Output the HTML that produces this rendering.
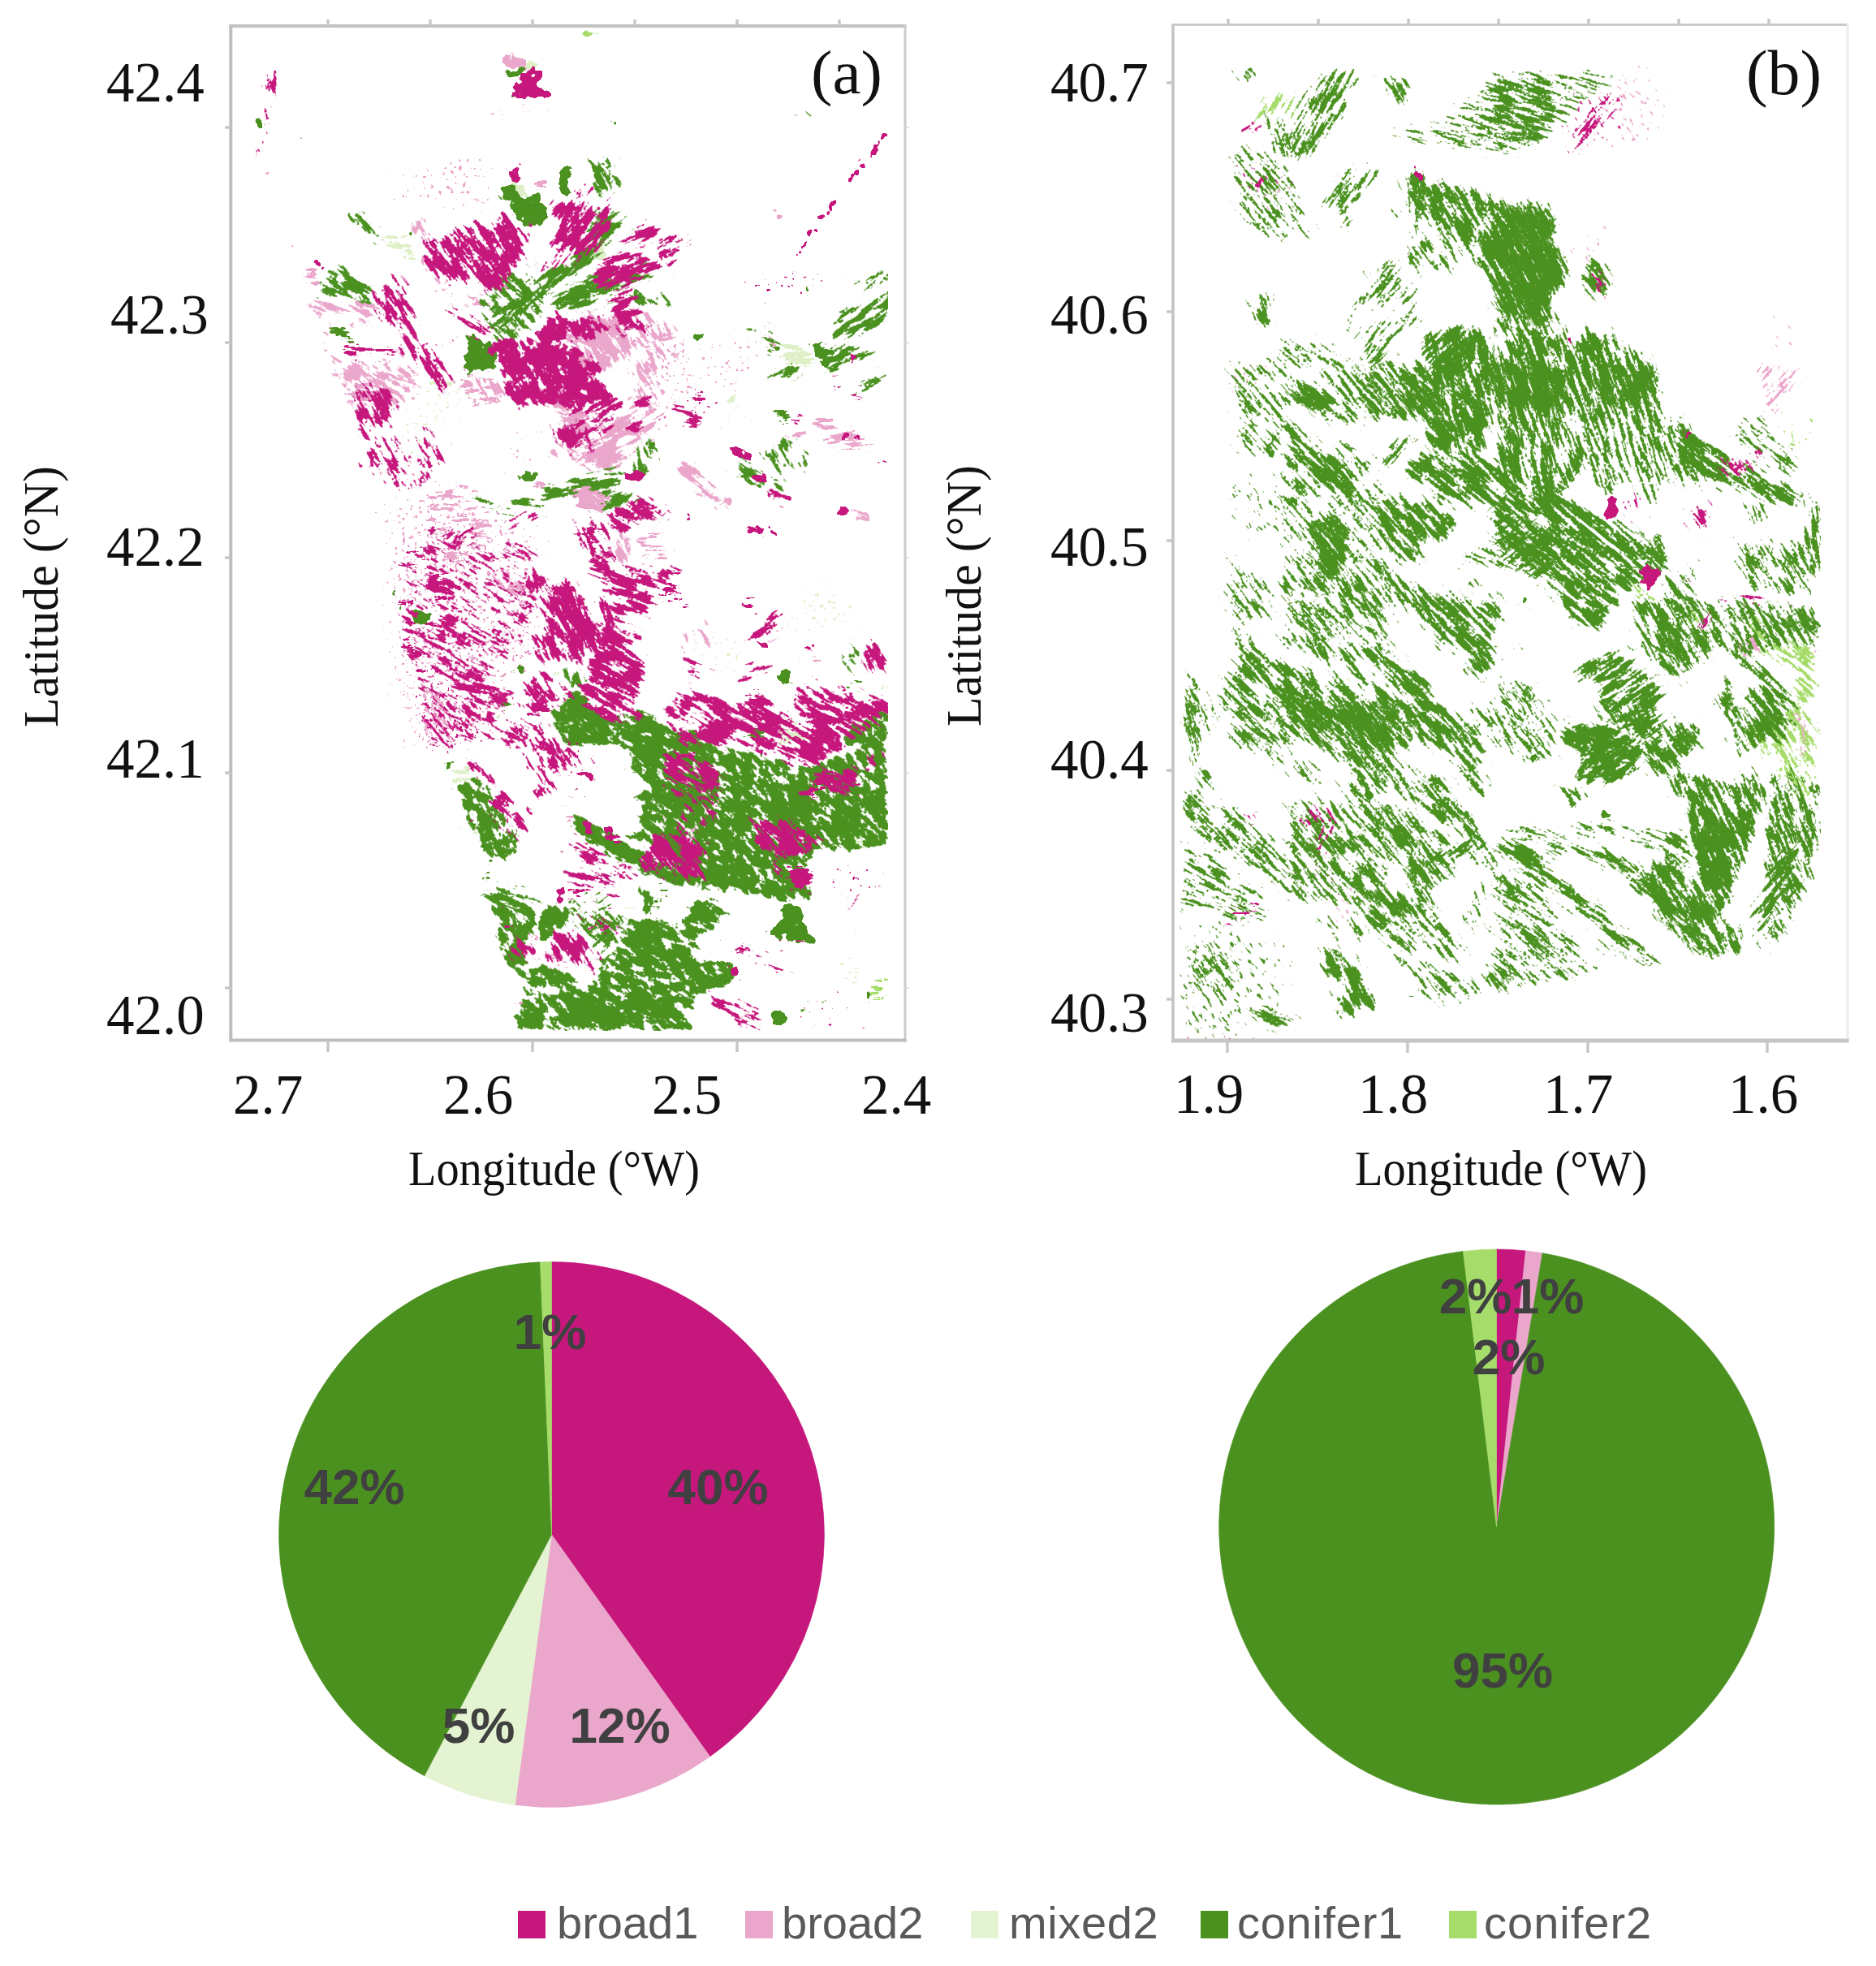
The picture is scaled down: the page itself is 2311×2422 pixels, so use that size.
<!DOCTYPE html>
<html><head><meta charset="utf-8"><title>Figure</title>
<style>html,body{margin:0;padding:0;background:#fff}svg{display:block}</style>
</head><body>
<svg width="2311" height="2422" viewBox="0 0 2311 2422">
<defs>
<clipPath id="clipA"><rect x="287" y="36" width="807" height="1234"/></clipPath>
<clipPath id="clipB"><rect x="1453" y="78" width="790" height="1202"/></clipPath>
<filter id="OAP" x="0" y="0" width="1" height="1" color-interpolation-filters="sRGB"><feTurbulence type="fractalNoise" baseFrequency="0.028" numOctaves="2" seed="41" result="lo"/><feDisplacementMap in="SourceGraphic" in2="lo" scale="5" xChannelSelector="G" yChannelSelector="B" result="d"/><feGaussianBlur in="d" stdDeviation="9" result="b"/><feColorMatrix in="b" type="matrix" values="1 0 0 0 0 0 1 0 0 0 0 0 1 0 0 0 0 0 30 0" result="s"/><feTurbulence type="fractalNoise" baseFrequency="0.2" numOctaves="2" seed="30" result="m0"/><feOffset in="m0" result="m"/><feColorMatrix in="m" type="matrix" values="0 0 0 0 0 0 0 0 0 0 0 0 0 0 0 1 0 0 0 0" result="a"/><feComposite in="a" in2="b" operator="arithmetic" k2="1" k3="0.12" k4="-0.12" result="c"/><feColorMatrix in="c" type="matrix" values="0 0 0 0 0 0 0 0 0 0 0 0 0 0 0 0 0 0 30 -19.65" result="k"/><feComposite in="s" in2="k" operator="in"/></filter>
<filter id="OAL" x="0" y="0" width="1" height="1" color-interpolation-filters="sRGB"><feTurbulence type="fractalNoise" baseFrequency="0.028" numOctaves="2" seed="70" result="lo"/><feDisplacementMap in="SourceGraphic" in2="lo" scale="5" xChannelSelector="G" yChannelSelector="B" result="d"/><feGaussianBlur in="d" stdDeviation="9" result="b"/><feColorMatrix in="b" type="matrix" values="1 0 0 0 0 0 1 0 0 0 0 0 1 0 0 0 0 0 30 0" result="s"/><feTurbulence type="fractalNoise" baseFrequency="0.2" numOctaves="2" seed="59" result="m0"/><feOffset in="m0" result="m"/><feColorMatrix in="m" type="matrix" values="0 0 0 0 0 0 0 0 0 0 0 0 0 0 0 1 0 0 0 0" result="a"/><feComposite in="a" in2="b" operator="arithmetic" k2="1" k3="0.12" k4="-0.12" result="c"/><feColorMatrix in="c" type="matrix" values="0 0 0 0 0 0 0 0 0 0 0 0 0 0 0 0 0 0 30 -19.65" result="k"/><feComposite in="s" in2="k" operator="in"/></filter>
<filter id="OBP" x="0" y="0" width="1" height="1" color-interpolation-filters="sRGB"><feTurbulence type="fractalNoise" baseFrequency="0.028" numOctaves="2" seed="48" result="lo"/><feDisplacementMap in="SourceGraphic" in2="lo" scale="5" xChannelSelector="G" yChannelSelector="B" result="d"/><feGaussianBlur in="d" stdDeviation="9" result="b"/><feColorMatrix in="b" type="matrix" values="1 0 0 0 0 0 1 0 0 0 0 0 1 0 0 0 0 0 30 0" result="s"/><feTurbulence type="fractalNoise" baseFrequency="0.1 0.25" numOctaves="2" seed="37" result="m0"/><feOffset in="m0" result="m"/><feColorMatrix in="m" type="matrix" values="0 0 0 0 0 0 0 0 0 0 0 0 0 0 0 1 0 0 0 0" result="a"/><feComposite in="a" in2="b" operator="arithmetic" k2="1" k3="0.12" k4="-0.12" result="c"/><feColorMatrix in="c" type="matrix" values="0 0 0 0 0 0 0 0 0 0 0 0 0 0 0 0 0 0 30 -19.65" result="k"/><feComposite in="s" in2="k" operator="in"/></filter>
<filter id="OBK" x="0" y="0" width="1" height="1" color-interpolation-filters="sRGB"><feTurbulence type="fractalNoise" baseFrequency="0.028" numOctaves="2" seed="45" result="lo"/><feDisplacementMap in="SourceGraphic" in2="lo" scale="5" xChannelSelector="G" yChannelSelector="B" result="d"/><feGaussianBlur in="d" stdDeviation="9" result="b"/><feColorMatrix in="b" type="matrix" values="1 0 0 0 0 0 1 0 0 0 0 0 1 0 0 0 0 0 30 0" result="s"/><feTurbulence type="fractalNoise" baseFrequency="0.1 0.25" numOctaves="2" seed="34" result="m0"/><feOffset in="m0" result="m"/><feColorMatrix in="m" type="matrix" values="0 0 0 0 0 0 0 0 0 0 0 0 0 0 0 1 0 0 0 0" result="a"/><feComposite in="a" in2="b" operator="arithmetic" k2="1" k3="0.12" k4="-0.12" result="c"/><feColorMatrix in="c" type="matrix" values="0 0 0 0 0 0 0 0 0 0 0 0 0 0 0 0 0 0 30 -19.65" result="k"/><feComposite in="s" in2="k" operator="in"/></filter>
<filter id="TAP" x="0" y="0" width="1" height="1" color-interpolation-filters="sRGB"><feTurbulence type="fractalNoise" baseFrequency="0.028" numOctaves="2" seed="54" result="lo"/><feDisplacementMap in="SourceGraphic" in2="lo" scale="8" xChannelSelector="G" yChannelSelector="B" result="d"/><feGaussianBlur in="d" stdDeviation="4" result="b"/><feColorMatrix in="b" type="matrix" values="1 0 0 0 0 0 1 0 0 0 0 0 1 0 0 0 0 0 30 0" result="s"/><feTurbulence type="fractalNoise" baseFrequency="0.05 0.2" numOctaves="3" seed="43" result="m0"/><feComposite in="m0" in2="lo" operator="arithmetic" k2="0.55" k3="0.25" result="m1"/><feTurbulence type="fractalNoise" baseFrequency="0.3" numOctaves="1" seed="48" result="fi"/><feComposite in="m1" in2="fi" operator="arithmetic" k2="1" k3="0.2" result="m"/><feColorMatrix in="m" type="matrix" values="0 0 0 0 0 0 0 0 0 0 0 0 0 0 0 1 0 0 0 0" result="a"/><feComposite in="a" in2="b" operator="arithmetic" k2="1" k3="0.14" k4="-0.14" result="c"/><feColorMatrix in="c" type="matrix" values="0 0 0 0 0 0 0 0 0 0 0 0 0 0 0 0 0 0 40 -21.40" result="k"/><feComposite in="s" in2="k" operator="in"/></filter>
<filter id="TAL" x="0" y="0" width="1" height="1" color-interpolation-filters="sRGB"><feTurbulence type="fractalNoise" baseFrequency="0.028" numOctaves="2" seed="83" result="lo"/><feDisplacementMap in="SourceGraphic" in2="lo" scale="8" xChannelSelector="G" yChannelSelector="B" result="d"/><feGaussianBlur in="d" stdDeviation="4" result="b"/><feColorMatrix in="b" type="matrix" values="1 0 0 0 0 0 1 0 0 0 0 0 1 0 0 0 0 0 30 0" result="s"/><feTurbulence type="fractalNoise" baseFrequency="0.05 0.2" numOctaves="3" seed="72" result="m0"/><feComposite in="m0" in2="lo" operator="arithmetic" k2="0.55" k3="0.25" result="m1"/><feTurbulence type="fractalNoise" baseFrequency="0.3" numOctaves="1" seed="77" result="fi"/><feComposite in="m1" in2="fi" operator="arithmetic" k2="1" k3="0.2" result="m"/><feColorMatrix in="m" type="matrix" values="0 0 0 0 0 0 0 0 0 0 0 0 0 0 0 1 0 0 0 0" result="a"/><feComposite in="a" in2="b" operator="arithmetic" k2="1" k3="0.14" k4="-0.14" result="c"/><feColorMatrix in="c" type="matrix" values="0 0 0 0 0 0 0 0 0 0 0 0 0 0 0 0 0 0 40 -21.40" result="k"/><feComposite in="s" in2="k" operator="in"/></filter>
<filter id="TAK" x="0" y="0" width="1" height="1" color-interpolation-filters="sRGB"><feTurbulence type="fractalNoise" baseFrequency="0.028" numOctaves="2" seed="51" result="lo"/><feDisplacementMap in="SourceGraphic" in2="lo" scale="8" xChannelSelector="G" yChannelSelector="B" result="d"/><feGaussianBlur in="d" stdDeviation="4" result="b"/><feColorMatrix in="b" type="matrix" values="1 0 0 0 0 0 1 0 0 0 0 0 1 0 0 0 0 0 30 0" result="s"/><feTurbulence type="fractalNoise" baseFrequency="0.05 0.2" numOctaves="3" seed="40" result="m0"/><feComposite in="m0" in2="lo" operator="arithmetic" k2="0.55" k3="0.25" result="m1"/><feTurbulence type="fractalNoise" baseFrequency="0.3" numOctaves="1" seed="45" result="fi"/><feComposite in="m1" in2="fi" operator="arithmetic" k2="1" k3="0.2" result="m"/><feColorMatrix in="m" type="matrix" values="0 0 0 0 0 0 0 0 0 0 0 0 0 0 0 1 0 0 0 0" result="a"/><feComposite in="a" in2="b" operator="arithmetic" k2="1" k3="0.14" k4="-0.14" result="c"/><feColorMatrix in="c" type="matrix" values="0 0 0 0 0 0 0 0 0 0 0 0 0 0 0 0 0 0 40 -21.40" result="k"/><feComposite in="s" in2="k" operator="in"/></filter>
<filter id="TBP" x="0" y="0" width="1" height="1" color-interpolation-filters="sRGB"><feTurbulence type="fractalNoise" baseFrequency="0.028" numOctaves="2" seed="61" result="lo"/><feDisplacementMap in="SourceGraphic" in2="lo" scale="8" xChannelSelector="G" yChannelSelector="B" result="d"/><feGaussianBlur in="d" stdDeviation="4" result="b"/><feColorMatrix in="b" type="matrix" values="1 0 0 0 0 0 1 0 0 0 0 0 1 0 0 0 0 0 30 0" result="s"/><feTurbulence type="fractalNoise" baseFrequency="0.036 0.22" numOctaves="3" seed="50" result="m0"/><feComposite in="m0" in2="lo" operator="arithmetic" k2="0.6" k3="0.14" result="m1"/><feTurbulence type="fractalNoise" baseFrequency="0.3" numOctaves="1" seed="55" result="fi"/><feComposite in="m1" in2="fi" operator="arithmetic" k2="1" k3="0.26" result="m"/><feColorMatrix in="m" type="matrix" values="0 0 0 0 0 0 0 0 0 0 0 0 0 0 0 1 0 0 0 0" result="a"/><feComposite in="a" in2="b" operator="arithmetic" k2="1" k3="0.14" k4="-0.14" result="c"/><feColorMatrix in="c" type="matrix" values="0 0 0 0 0 0 0 0 0 0 0 0 0 0 0 0 0 0 40 -21.40" result="k"/><feComposite in="s" in2="k" operator="in"/></filter>
<filter id="HAL" x="0" y="0" width="1" height="1" color-interpolation-filters="sRGB"><feTurbulence type="fractalNoise" baseFrequency="0.028" numOctaves="2" seed="96" result="lo"/><feDisplacementMap in="SourceGraphic" in2="lo" scale="10" xChannelSelector="G" yChannelSelector="B" result="d"/><feGaussianBlur in="d" stdDeviation="4" result="b"/><feColorMatrix in="b" type="matrix" values="1 0 0 0 0 0 1 0 0 0 0 0 1 0 0 0 0 0 30 0" result="s"/><feTurbulence type="fractalNoise" baseFrequency="0.04 0.18" numOctaves="3" seed="85" result="m0"/><feComposite in="m0" in2="lo" operator="arithmetic" k2="0.55" k3="0.27" result="m1"/><feTurbulence type="fractalNoise" baseFrequency="0.3" numOctaves="1" seed="90" result="fi"/><feComposite in="m1" in2="fi" operator="arithmetic" k2="1" k3="0.18" result="m"/><feColorMatrix in="m" type="matrix" values="0 0 0 0 0 0 0 0 0 0 0 0 0 0 0 1 0 0 0 0" result="a"/><feComposite in="a" in2="b" operator="arithmetic" k2="1" k3="0.18" k4="-0.18" result="c"/><feColorMatrix in="c" type="matrix" values="0 0 0 0 0 0 0 0 0 0 0 0 0 0 0 0 0 0 40 -19.80" result="k"/><feComposite in="s" in2="k" operator="in"/></filter>
<filter id="HAP" x="0" y="0" width="1" height="1" color-interpolation-filters="sRGB"><feTurbulence type="fractalNoise" baseFrequency="0.028" numOctaves="2" seed="67" result="lo"/><feDisplacementMap in="SourceGraphic" in2="lo" scale="10" xChannelSelector="G" yChannelSelector="B" result="d"/><feGaussianBlur in="d" stdDeviation="4" result="b"/><feColorMatrix in="b" type="matrix" values="1 0 0 0 0 0 1 0 0 0 0 0 1 0 0 0 0 0 30 0" result="s"/><feTurbulence type="fractalNoise" baseFrequency="0.04 0.18" numOctaves="3" seed="56" result="m0"/><feComposite in="m0" in2="lo" operator="arithmetic" k2="0.55" k3="0.27" result="m1"/><feTurbulence type="fractalNoise" baseFrequency="0.3" numOctaves="1" seed="61" result="fi"/><feComposite in="m1" in2="fi" operator="arithmetic" k2="1" k3="0.18" result="m"/><feColorMatrix in="m" type="matrix" values="0 0 0 0 0 0 0 0 0 0 0 0 0 0 0 1 0 0 0 0" result="a"/><feComposite in="a" in2="b" operator="arithmetic" k2="1" k3="0.18" k4="-0.18" result="c"/><feColorMatrix in="c" type="matrix" values="0 0 0 0 0 0 0 0 0 0 0 0 0 0 0 0 0 0 40 -19.80" result="k"/><feComposite in="s" in2="k" operator="in"/></filter>
<filter id="HAK" x="0" y="0" width="1" height="1" color-interpolation-filters="sRGB"><feTurbulence type="fractalNoise" baseFrequency="0.028" numOctaves="2" seed="64" result="lo"/><feDisplacementMap in="SourceGraphic" in2="lo" scale="10" xChannelSelector="G" yChannelSelector="B" result="d"/><feGaussianBlur in="d" stdDeviation="4" result="b"/><feColorMatrix in="b" type="matrix" values="1 0 0 0 0 0 1 0 0 0 0 0 1 0 0 0 0 0 30 0" result="s"/><feTurbulence type="fractalNoise" baseFrequency="0.04 0.18" numOctaves="3" seed="53" result="m0"/><feComposite in="m0" in2="lo" operator="arithmetic" k2="0.55" k3="0.27" result="m1"/><feTurbulence type="fractalNoise" baseFrequency="0.3" numOctaves="1" seed="58" result="fi"/><feComposite in="m1" in2="fi" operator="arithmetic" k2="1" k3="0.18" result="m"/><feColorMatrix in="m" type="matrix" values="0 0 0 0 0 0 0 0 0 0 0 0 0 0 0 1 0 0 0 0" result="a"/><feComposite in="a" in2="b" operator="arithmetic" k2="1" k3="0.18" k4="-0.18" result="c"/><feColorMatrix in="c" type="matrix" values="0 0 0 0 0 0 0 0 0 0 0 0 0 0 0 0 0 0 40 -19.80" result="k"/><feComposite in="s" in2="k" operator="in"/></filter>
<filter id="HBK" x="0" y="0" width="1" height="1" color-interpolation-filters="sRGB"><feTurbulence type="fractalNoise" baseFrequency="0.028" numOctaves="2" seed="71" result="lo"/><feDisplacementMap in="SourceGraphic" in2="lo" scale="10" xChannelSelector="G" yChannelSelector="B" result="d"/><feGaussianBlur in="d" stdDeviation="4" result="b"/><feColorMatrix in="b" type="matrix" values="1 0 0 0 0 0 1 0 0 0 0 0 1 0 0 0 0 0 30 0" result="s"/><feTurbulence type="fractalNoise" baseFrequency="0.032 0.21" numOctaves="3" seed="60" result="m0"/><feComposite in="m0" in2="lo" operator="arithmetic" k2="0.6" k3="0.16" result="m1"/><feTurbulence type="fractalNoise" baseFrequency="0.3" numOctaves="1" seed="65" result="fi"/><feComposite in="m1" in2="fi" operator="arithmetic" k2="1" k3="0.24" result="m"/><feColorMatrix in="m" type="matrix" values="0 0 0 0 0 0 0 0 0 0 0 0 0 0 0 1 0 0 0 0" result="a"/><feComposite in="a" in2="b" operator="arithmetic" k2="1" k3="0.18" k4="-0.18" result="c"/><feColorMatrix in="c" type="matrix" values="0 0 0 0 0 0 0 0 0 0 0 0 0 0 0 0 0 0 40 -19.80" result="k"/><feComposite in="s" in2="k" operator="in"/></filter>
<filter id="HBP" x="0" y="0" width="1" height="1" color-interpolation-filters="sRGB"><feTurbulence type="fractalNoise" baseFrequency="0.028" numOctaves="2" seed="74" result="lo"/><feDisplacementMap in="SourceGraphic" in2="lo" scale="10" xChannelSelector="G" yChannelSelector="B" result="d"/><feGaussianBlur in="d" stdDeviation="4" result="b"/><feColorMatrix in="b" type="matrix" values="1 0 0 0 0 0 1 0 0 0 0 0 1 0 0 0 0 0 30 0" result="s"/><feTurbulence type="fractalNoise" baseFrequency="0.032 0.21" numOctaves="3" seed="63" result="m0"/><feComposite in="m0" in2="lo" operator="arithmetic" k2="0.6" k3="0.16" result="m1"/><feTurbulence type="fractalNoise" baseFrequency="0.3" numOctaves="1" seed="68" result="fi"/><feComposite in="m1" in2="fi" operator="arithmetic" k2="1" k3="0.24" result="m"/><feColorMatrix in="m" type="matrix" values="0 0 0 0 0 0 0 0 0 0 0 0 0 0 0 1 0 0 0 0" result="a"/><feComposite in="a" in2="b" operator="arithmetic" k2="1" k3="0.18" k4="-0.18" result="c"/><feColorMatrix in="c" type="matrix" values="0 0 0 0 0 0 0 0 0 0 0 0 0 0 0 0 0 0 40 -19.80" result="k"/><feComposite in="s" in2="k" operator="in"/></filter>
<filter id="DAP" x="0" y="0" width="1" height="1" color-interpolation-filters="sRGB"><feTurbulence type="fractalNoise" baseFrequency="0.028" numOctaves="2" seed="80" result="lo"/><feDisplacementMap in="SourceGraphic" in2="lo" scale="10" xChannelSelector="G" yChannelSelector="B" result="d"/><feGaussianBlur in="d" stdDeviation="4" result="b"/><feColorMatrix in="b" type="matrix" values="1 0 0 0 0 0 1 0 0 0 0 0 1 0 0 0 0 0 30 0" result="s"/><feTurbulence type="fractalNoise" baseFrequency="0.035 0.17" numOctaves="3" seed="69" result="m0"/><feComposite in="m0" in2="lo" operator="arithmetic" k2="0.55" k3="0.27" result="m1"/><feTurbulence type="fractalNoise" baseFrequency="0.3" numOctaves="1" seed="74" result="fi"/><feComposite in="m1" in2="fi" operator="arithmetic" k2="1" k3="0.18" result="m"/><feColorMatrix in="m" type="matrix" values="0 0 0 0 0 0 0 0 0 0 0 0 0 0 0 1 0 0 0 0" result="a"/><feComposite in="a" in2="b" operator="arithmetic" k2="1" k3="0.2" k4="-0.2" result="c"/><feColorMatrix in="c" type="matrix" values="0 0 0 0 0 0 0 0 0 0 0 0 0 0 0 0 0 0 40 -17.80" result="k"/><feComposite in="s" in2="k" operator="in"/></filter>
<filter id="DAL" x="0" y="0" width="1" height="1" color-interpolation-filters="sRGB"><feTurbulence type="fractalNoise" baseFrequency="0.028" numOctaves="2" seed="19" result="lo"/><feDisplacementMap in="SourceGraphic" in2="lo" scale="10" xChannelSelector="G" yChannelSelector="B" result="d"/><feGaussianBlur in="d" stdDeviation="4" result="b"/><feColorMatrix in="b" type="matrix" values="1 0 0 0 0 0 1 0 0 0 0 0 1 0 0 0 0 0 30 0" result="s"/><feTurbulence type="fractalNoise" baseFrequency="0.035 0.17" numOctaves="3" seed="8" result="m0"/><feComposite in="m0" in2="lo" operator="arithmetic" k2="0.55" k3="0.27" result="m1"/><feTurbulence type="fractalNoise" baseFrequency="0.3" numOctaves="1" seed="13" result="fi"/><feComposite in="m1" in2="fi" operator="arithmetic" k2="1" k3="0.18" result="m"/><feColorMatrix in="m" type="matrix" values="0 0 0 0 0 0 0 0 0 0 0 0 0 0 0 1 0 0 0 0" result="a"/><feComposite in="a" in2="b" operator="arithmetic" k2="1" k3="0.2" k4="-0.2" result="c"/><feColorMatrix in="c" type="matrix" values="0 0 0 0 0 0 0 0 0 0 0 0 0 0 0 0 0 0 40 -17.80" result="k"/><feComposite in="s" in2="k" operator="in"/></filter>
<filter id="DBP" x="0" y="0" width="1" height="1" color-interpolation-filters="sRGB"><feTurbulence type="fractalNoise" baseFrequency="0.028" numOctaves="2" seed="87" result="lo"/><feDisplacementMap in="SourceGraphic" in2="lo" scale="10" xChannelSelector="G" yChannelSelector="B" result="d"/><feGaussianBlur in="d" stdDeviation="4" result="b"/><feColorMatrix in="b" type="matrix" values="1 0 0 0 0 0 1 0 0 0 0 0 1 0 0 0 0 0 30 0" result="s"/><feTurbulence type="fractalNoise" baseFrequency="0.03 0.2" numOctaves="3" seed="76" result="m0"/><feComposite in="m0" in2="lo" operator="arithmetic" k2="0.6" k3="0.16" result="m1"/><feTurbulence type="fractalNoise" baseFrequency="0.3" numOctaves="1" seed="81" result="fi"/><feComposite in="m1" in2="fi" operator="arithmetic" k2="1" k3="0.24" result="m"/><feColorMatrix in="m" type="matrix" values="0 0 0 0 0 0 0 0 0 0 0 0 0 0 0 1 0 0 0 0" result="a"/><feComposite in="a" in2="b" operator="arithmetic" k2="1" k3="0.2" k4="-0.2" result="c"/><feColorMatrix in="c" type="matrix" values="0 0 0 0 0 0 0 0 0 0 0 0 0 0 0 0 0 0 40 -17.80" result="k"/><feComposite in="s" in2="k" operator="in"/></filter>
<filter id="SAP" x="0" y="0" width="1" height="1" color-interpolation-filters="sRGB"><feTurbulence type="fractalNoise" baseFrequency="0.028" numOctaves="2" seed="16" result="lo"/><feDisplacementMap in="SourceGraphic" in2="lo" scale="9" xChannelSelector="G" yChannelSelector="B" result="d"/><feGaussianBlur in="d" stdDeviation="2.5" result="b"/><feColorMatrix in="b" type="matrix" values="1 0 0 0 0 0 1 0 0 0 0 0 1 0 0 0 0 0 30 0" result="s"/><feTurbulence type="fractalNoise" baseFrequency="0.11" numOctaves="2" seed="5" result="m0"/><feOffset in="m0" result="m"/><feColorMatrix in="m" type="matrix" values="0 0 0 0 0 0 0 0 0 0 0 0 0 0 0 1 0 0 0 0" result="a"/><feComposite in="a" in2="b" operator="arithmetic" k2="1" k3="0.55" k4="-0.55" result="c"/><feColorMatrix in="c" type="matrix" values="0 0 0 0 0 0 0 0 0 0 0 0 0 0 0 0 0 0 30 -6.60" result="k"/><feComposite in="s" in2="k" operator="in"/></filter>
<filter id="SAL" x="0" y="0" width="1" height="1" color-interpolation-filters="sRGB"><feTurbulence type="fractalNoise" baseFrequency="0.028" numOctaves="2" seed="45" result="lo"/><feDisplacementMap in="SourceGraphic" in2="lo" scale="9" xChannelSelector="G" yChannelSelector="B" result="d"/><feGaussianBlur in="d" stdDeviation="2.5" result="b"/><feColorMatrix in="b" type="matrix" values="1 0 0 0 0 0 1 0 0 0 0 0 1 0 0 0 0 0 30 0" result="s"/><feTurbulence type="fractalNoise" baseFrequency="0.11" numOctaves="2" seed="34" result="m0"/><feOffset in="m0" result="m"/><feColorMatrix in="m" type="matrix" values="0 0 0 0 0 0 0 0 0 0 0 0 0 0 0 1 0 0 0 0" result="a"/><feComposite in="a" in2="b" operator="arithmetic" k2="1" k3="0.55" k4="-0.55" result="c"/><feColorMatrix in="c" type="matrix" values="0 0 0 0 0 0 0 0 0 0 0 0 0 0 0 0 0 0 30 -6.60" result="k"/><feComposite in="s" in2="k" operator="in"/></filter>
<filter id="SAK" x="0" y="0" width="1" height="1" color-interpolation-filters="sRGB"><feTurbulence type="fractalNoise" baseFrequency="0.028" numOctaves="2" seed="13" result="lo"/><feDisplacementMap in="SourceGraphic" in2="lo" scale="9" xChannelSelector="G" yChannelSelector="B" result="d"/><feGaussianBlur in="d" stdDeviation="2.5" result="b"/><feColorMatrix in="b" type="matrix" values="1 0 0 0 0 0 1 0 0 0 0 0 1 0 0 0 0 0 30 0" result="s"/><feTurbulence type="fractalNoise" baseFrequency="0.11" numOctaves="2" seed="2" result="m0"/><feOffset in="m0" result="m"/><feColorMatrix in="m" type="matrix" values="0 0 0 0 0 0 0 0 0 0 0 0 0 0 0 1 0 0 0 0" result="a"/><feComposite in="a" in2="b" operator="arithmetic" k2="1" k3="0.55" k4="-0.55" result="c"/><feColorMatrix in="c" type="matrix" values="0 0 0 0 0 0 0 0 0 0 0 0 0 0 0 0 0 0 30 -6.60" result="k"/><feComposite in="s" in2="k" operator="in"/></filter>
<filter id="OBG" x="0" y="0" width="1" height="1" color-interpolation-filters="sRGB"><feTurbulence type="fractalNoise" baseFrequency="0.028" numOctaves="2" seed="16" result="lo"/><feDisplacementMap in="SourceGraphic" in2="lo" scale="5" xChannelSelector="G" yChannelSelector="B" result="d"/><feGaussianBlur in="d" stdDeviation="9" result="b"/><feColorMatrix in="b" type="matrix" values="1 0 0 0 0 0 1 0 0 0 0 0 1 0 0 0 0 0 30 0" result="s"/><feTurbulence type="fractalNoise" baseFrequency="0.1 0.25" numOctaves="2" seed="5" result="m0"/><feOffset in="m0" result="m"/><feColorMatrix in="m" type="matrix" values="0 0 0 0 0 0 0 0 0 0 0 0 0 0 0 1 0 0 0 0" result="a"/><feComposite in="a" in2="b" operator="arithmetic" k2="1" k3="0.12" k4="-0.12" result="c"/><feColorMatrix in="c" type="matrix" values="0 0 0 0 0 0 0 0 0 0 0 0 0 0 0 0 0 0 30 -19.65" result="k"/><feComposite in="s" in2="k" operator="in"/></filter>
<filter id="TAG" x="0" y="0" width="1" height="1" color-interpolation-filters="sRGB"><feTurbulence type="fractalNoise" baseFrequency="0.028" numOctaves="2" seed="22" result="lo"/><feDisplacementMap in="SourceGraphic" in2="lo" scale="8" xChannelSelector="G" yChannelSelector="B" result="d"/><feGaussianBlur in="d" stdDeviation="4" result="b"/><feColorMatrix in="b" type="matrix" values="1 0 0 0 0 0 1 0 0 0 0 0 1 0 0 0 0 0 30 0" result="s"/><feTurbulence type="fractalNoise" baseFrequency="0.05 0.2" numOctaves="3" seed="11" result="m0"/><feComposite in="m0" in2="lo" operator="arithmetic" k2="0.55" k3="0.25" result="m1"/><feTurbulence type="fractalNoise" baseFrequency="0.3" numOctaves="1" seed="16" result="fi"/><feComposite in="m1" in2="fi" operator="arithmetic" k2="1" k3="0.2" result="m"/><feColorMatrix in="m" type="matrix" values="0 0 0 0 0 0 0 0 0 0 0 0 0 0 0 1 0 0 0 0" result="a"/><feComposite in="a" in2="b" operator="arithmetic" k2="1" k3="0.14" k4="-0.14" result="c"/><feColorMatrix in="c" type="matrix" values="0 0 0 0 0 0 0 0 0 0 0 0 0 0 0 0 0 0 40 -21.40" result="k"/><feComposite in="s" in2="k" operator="in"/></filter>
<filter id="TBG" x="0" y="0" width="1" height="1" color-interpolation-filters="sRGB"><feTurbulence type="fractalNoise" baseFrequency="0.028" numOctaves="2" seed="29" result="lo"/><feDisplacementMap in="SourceGraphic" in2="lo" scale="8" xChannelSelector="G" yChannelSelector="B" result="d"/><feGaussianBlur in="d" stdDeviation="4" result="b"/><feColorMatrix in="b" type="matrix" values="1 0 0 0 0 0 1 0 0 0 0 0 1 0 0 0 0 0 30 0" result="s"/><feTurbulence type="fractalNoise" baseFrequency="0.036 0.22" numOctaves="3" seed="18" result="m0"/><feComposite in="m0" in2="lo" operator="arithmetic" k2="0.6" k3="0.14" result="m1"/><feTurbulence type="fractalNoise" baseFrequency="0.3" numOctaves="1" seed="23" result="fi"/><feComposite in="m1" in2="fi" operator="arithmetic" k2="1" k3="0.26" result="m"/><feColorMatrix in="m" type="matrix" values="0 0 0 0 0 0 0 0 0 0 0 0 0 0 0 1 0 0 0 0" result="a"/><feComposite in="a" in2="b" operator="arithmetic" k2="1" k3="0.14" k4="-0.14" result="c"/><feColorMatrix in="c" type="matrix" values="0 0 0 0 0 0 0 0 0 0 0 0 0 0 0 0 0 0 40 -21.40" result="k"/><feComposite in="s" in2="k" operator="in"/></filter>
<filter id="HAG" x="0" y="0" width="1" height="1" color-interpolation-filters="sRGB"><feTurbulence type="fractalNoise" baseFrequency="0.028" numOctaves="2" seed="35" result="lo"/><feDisplacementMap in="SourceGraphic" in2="lo" scale="10" xChannelSelector="G" yChannelSelector="B" result="d"/><feGaussianBlur in="d" stdDeviation="4" result="b"/><feColorMatrix in="b" type="matrix" values="1 0 0 0 0 0 1 0 0 0 0 0 1 0 0 0 0 0 30 0" result="s"/><feTurbulence type="fractalNoise" baseFrequency="0.04 0.18" numOctaves="3" seed="24" result="m0"/><feComposite in="m0" in2="lo" operator="arithmetic" k2="0.55" k3="0.27" result="m1"/><feTurbulence type="fractalNoise" baseFrequency="0.3" numOctaves="1" seed="29" result="fi"/><feComposite in="m1" in2="fi" operator="arithmetic" k2="1" k3="0.18" result="m"/><feColorMatrix in="m" type="matrix" values="0 0 0 0 0 0 0 0 0 0 0 0 0 0 0 1 0 0 0 0" result="a"/><feComposite in="a" in2="b" operator="arithmetic" k2="1" k3="0.18" k4="-0.18" result="c"/><feColorMatrix in="c" type="matrix" values="0 0 0 0 0 0 0 0 0 0 0 0 0 0 0 0 0 0 40 -19.80" result="k"/><feComposite in="s" in2="k" operator="in"/></filter>
<filter id="HBG" x="0" y="0" width="1" height="1" color-interpolation-filters="sRGB"><feTurbulence type="fractalNoise" baseFrequency="0.028" numOctaves="2" seed="42" result="lo"/><feDisplacementMap in="SourceGraphic" in2="lo" scale="10" xChannelSelector="G" yChannelSelector="B" result="d"/><feGaussianBlur in="d" stdDeviation="4" result="b"/><feColorMatrix in="b" type="matrix" values="1 0 0 0 0 0 1 0 0 0 0 0 1 0 0 0 0 0 30 0" result="s"/><feTurbulence type="fractalNoise" baseFrequency="0.032 0.21" numOctaves="3" seed="31" result="m0"/><feComposite in="m0" in2="lo" operator="arithmetic" k2="0.6" k3="0.16" result="m1"/><feTurbulence type="fractalNoise" baseFrequency="0.3" numOctaves="1" seed="36" result="fi"/><feComposite in="m1" in2="fi" operator="arithmetic" k2="1" k3="0.24" result="m"/><feColorMatrix in="m" type="matrix" values="0 0 0 0 0 0 0 0 0 0 0 0 0 0 0 1 0 0 0 0" result="a"/><feComposite in="a" in2="b" operator="arithmetic" k2="1" k3="0.18" k4="-0.18" result="c"/><feColorMatrix in="c" type="matrix" values="0 0 0 0 0 0 0 0 0 0 0 0 0 0 0 0 0 0 40 -19.80" result="k"/><feComposite in="s" in2="k" operator="in"/></filter>
<filter id="DAG" x="0" y="0" width="1" height="1" color-interpolation-filters="sRGB"><feTurbulence type="fractalNoise" baseFrequency="0.028" numOctaves="2" seed="48" result="lo"/><feDisplacementMap in="SourceGraphic" in2="lo" scale="10" xChannelSelector="G" yChannelSelector="B" result="d"/><feGaussianBlur in="d" stdDeviation="4" result="b"/><feColorMatrix in="b" type="matrix" values="1 0 0 0 0 0 1 0 0 0 0 0 1 0 0 0 0 0 30 0" result="s"/><feTurbulence type="fractalNoise" baseFrequency="0.035 0.17" numOctaves="3" seed="37" result="m0"/><feComposite in="m0" in2="lo" operator="arithmetic" k2="0.55" k3="0.27" result="m1"/><feTurbulence type="fractalNoise" baseFrequency="0.3" numOctaves="1" seed="42" result="fi"/><feComposite in="m1" in2="fi" operator="arithmetic" k2="1" k3="0.18" result="m"/><feColorMatrix in="m" type="matrix" values="0 0 0 0 0 0 0 0 0 0 0 0 0 0 0 1 0 0 0 0" result="a"/><feComposite in="a" in2="b" operator="arithmetic" k2="1" k3="0.2" k4="-0.2" result="c"/><feColorMatrix in="c" type="matrix" values="0 0 0 0 0 0 0 0 0 0 0 0 0 0 0 0 0 0 40 -17.80" result="k"/><feComposite in="s" in2="k" operator="in"/></filter>
<filter id="DBG" x="0" y="0" width="1" height="1" color-interpolation-filters="sRGB"><feTurbulence type="fractalNoise" baseFrequency="0.028" numOctaves="2" seed="55" result="lo"/><feDisplacementMap in="SourceGraphic" in2="lo" scale="10" xChannelSelector="G" yChannelSelector="B" result="d"/><feGaussianBlur in="d" stdDeviation="4" result="b"/><feColorMatrix in="b" type="matrix" values="1 0 0 0 0 0 1 0 0 0 0 0 1 0 0 0 0 0 30 0" result="s"/><feTurbulence type="fractalNoise" baseFrequency="0.03 0.2" numOctaves="3" seed="44" result="m0"/><feComposite in="m0" in2="lo" operator="arithmetic" k2="0.6" k3="0.16" result="m1"/><feTurbulence type="fractalNoise" baseFrequency="0.3" numOctaves="1" seed="49" result="fi"/><feComposite in="m1" in2="fi" operator="arithmetic" k2="1" k3="0.24" result="m"/><feColorMatrix in="m" type="matrix" values="0 0 0 0 0 0 0 0 0 0 0 0 0 0 0 1 0 0 0 0" result="a"/><feComposite in="a" in2="b" operator="arithmetic" k2="1" k3="0.2" k4="-0.2" result="c"/><feColorMatrix in="c" type="matrix" values="0 0 0 0 0 0 0 0 0 0 0 0 0 0 0 0 0 0 40 -17.80" result="k"/><feComposite in="s" in2="k" operator="in"/></filter>
<filter id="FAG" x="0" y="0" width="1" height="1" color-interpolation-filters="sRGB"><feTurbulence type="fractalNoise" baseFrequency="0.028" numOctaves="2" seed="61" result="lo"/><feDisplacementMap in="SourceGraphic" in2="lo" scale="10" xChannelSelector="G" yChannelSelector="B" result="d"/><feGaussianBlur in="d" stdDeviation="3.5" result="b"/><feColorMatrix in="b" type="matrix" values="1 0 0 0 0 0 1 0 0 0 0 0 1 0 0 0 0 0 30 0" result="s"/><feTurbulence type="fractalNoise" baseFrequency="0.06 0.13" numOctaves="3" seed="50" result="m0"/><feComposite in="m0" in2="lo" operator="arithmetic" k2="0.55" k3="0.27" result="m1"/><feTurbulence type="fractalNoise" baseFrequency="0.3" numOctaves="1" seed="55" result="fi"/><feComposite in="m1" in2="fi" operator="arithmetic" k2="1" k3="0.18" result="m"/><feColorMatrix in="m" type="matrix" values="0 0 0 0 0 0 0 0 0 0 0 0 0 0 0 1 0 0 0 0" result="a"/><feComposite in="a" in2="b" operator="arithmetic" k2="1" k3="0.3" k4="-0.3" result="c"/><feColorMatrix in="c" type="matrix" values="0 0 0 0 0 0 0 0 0 0 0 0 0 0 0 0 0 0 40 -16.20" result="k"/><feComposite in="s" in2="k" operator="in"/></filter>
<filter id="FBG" x="0" y="0" width="1" height="1" color-interpolation-filters="sRGB"><feTurbulence type="fractalNoise" baseFrequency="0.028" numOctaves="2" seed="68" result="lo"/><feDisplacementMap in="SourceGraphic" in2="lo" scale="10" xChannelSelector="G" yChannelSelector="B" result="d"/><feGaussianBlur in="d" stdDeviation="3.5" result="b"/><feColorMatrix in="b" type="matrix" values="1 0 0 0 0 0 1 0 0 0 0 0 1 0 0 0 0 0 30 0" result="s"/><feTurbulence type="fractalNoise" baseFrequency="0.05 0.15" numOctaves="3" seed="57" result="m0"/><feComposite in="m0" in2="lo" operator="arithmetic" k2="0.6" k3="0.18" result="m1"/><feTurbulence type="fractalNoise" baseFrequency="0.3" numOctaves="1" seed="62" result="fi"/><feComposite in="m1" in2="fi" operator="arithmetic" k2="1" k3="0.22" result="m"/><feColorMatrix in="m" type="matrix" values="0 0 0 0 0 0 0 0 0 0 0 0 0 0 0 1 0 0 0 0" result="a"/><feComposite in="a" in2="b" operator="arithmetic" k2="1" k3="0.3" k4="-0.3" result="c"/><feColorMatrix in="c" type="matrix" values="0 0 0 0 0 0 0 0 0 0 0 0 0 0 0 0 0 0 40 -16.20" result="k"/><feComposite in="s" in2="k" operator="in"/></filter>
<filter id="SAG" x="0" y="0" width="1" height="1" color-interpolation-filters="sRGB"><feTurbulence type="fractalNoise" baseFrequency="0.028" numOctaves="2" seed="74" result="lo"/><feDisplacementMap in="SourceGraphic" in2="lo" scale="9" xChannelSelector="G" yChannelSelector="B" result="d"/><feGaussianBlur in="d" stdDeviation="2.5" result="b"/><feColorMatrix in="b" type="matrix" values="1 0 0 0 0 0 1 0 0 0 0 0 1 0 0 0 0 0 30 0" result="s"/><feTurbulence type="fractalNoise" baseFrequency="0.11" numOctaves="2" seed="63" result="m0"/><feOffset in="m0" result="m"/><feColorMatrix in="m" type="matrix" values="0 0 0 0 0 0 0 0 0 0 0 0 0 0 0 1 0 0 0 0" result="a"/><feComposite in="a" in2="b" operator="arithmetic" k2="1" k3="0.55" k4="-0.55" result="c"/><feColorMatrix in="c" type="matrix" values="0 0 0 0 0 0 0 0 0 0 0 0 0 0 0 0 0 0 30 -6.60" result="k"/><feComposite in="s" in2="k" operator="in"/></filter>
<filter id="SBG" x="0" y="0" width="1" height="1" color-interpolation-filters="sRGB"><feTurbulence type="fractalNoise" baseFrequency="0.028" numOctaves="2" seed="81" result="lo"/><feDisplacementMap in="SourceGraphic" in2="lo" scale="9" xChannelSelector="G" yChannelSelector="B" result="d"/><feGaussianBlur in="d" stdDeviation="2.5" result="b"/><feColorMatrix in="b" type="matrix" values="1 0 0 0 0 0 1 0 0 0 0 0 1 0 0 0 0 0 30 0" result="s"/><feTurbulence type="fractalNoise" baseFrequency="0.11" numOctaves="2" seed="70" result="m0"/><feOffset in="m0" result="m"/><feColorMatrix in="m" type="matrix" values="0 0 0 0 0 0 0 0 0 0 0 0 0 0 0 1 0 0 0 0" result="a"/><feComposite in="a" in2="b" operator="arithmetic" k2="1" k3="0.55" k4="-0.55" result="c"/><feColorMatrix in="c" type="matrix" values="0 0 0 0 0 0 0 0 0 0 0 0 0 0 0 0 0 0 30 -6.60" result="k"/><feComposite in="s" in2="k" operator="in"/></filter>
<filter id="OAM" x="0" y="0" width="1" height="1" color-interpolation-filters="sRGB"><feTurbulence type="fractalNoise" baseFrequency="0.028" numOctaves="2" seed="12" result="lo"/><feDisplacementMap in="SourceGraphic" in2="lo" scale="5" xChannelSelector="G" yChannelSelector="B" result="d"/><feGaussianBlur in="d" stdDeviation="9" result="b"/><feColorMatrix in="b" type="matrix" values="1 0 0 0 0 0 1 0 0 0 0 0 1 0 0 0 0 0 30 0" result="s"/><feTurbulence type="fractalNoise" baseFrequency="0.2" numOctaves="2" seed="1" result="m0"/><feOffset in="m0" result="m"/><feColorMatrix in="m" type="matrix" values="0 0 0 0 0 0 0 0 0 0 0 0 0 0 0 1 0 0 0 0" result="a"/><feComposite in="a" in2="b" operator="arithmetic" k2="1" k3="0.12" k4="-0.12" result="c"/><feColorMatrix in="c" type="matrix" values="0 0 0 0 0 0 0 0 0 0 0 0 0 0 0 0 0 0 30 -19.65" result="k"/><feComposite in="s" in2="k" operator="in"/></filter>
<filter id="OBM" x="0" y="0" width="1" height="1" color-interpolation-filters="sRGB"><feTurbulence type="fractalNoise" baseFrequency="0.028" numOctaves="2" seed="19" result="lo"/><feDisplacementMap in="SourceGraphic" in2="lo" scale="5" xChannelSelector="G" yChannelSelector="B" result="d"/><feGaussianBlur in="d" stdDeviation="9" result="b"/><feColorMatrix in="b" type="matrix" values="1 0 0 0 0 0 1 0 0 0 0 0 1 0 0 0 0 0 30 0" result="s"/><feTurbulence type="fractalNoise" baseFrequency="0.1 0.25" numOctaves="2" seed="8" result="m0"/><feOffset in="m0" result="m"/><feColorMatrix in="m" type="matrix" values="0 0 0 0 0 0 0 0 0 0 0 0 0 0 0 1 0 0 0 0" result="a"/><feComposite in="a" in2="b" operator="arithmetic" k2="1" k3="0.12" k4="-0.12" result="c"/><feColorMatrix in="c" type="matrix" values="0 0 0 0 0 0 0 0 0 0 0 0 0 0 0 0 0 0 30 -19.65" result="k"/><feComposite in="s" in2="k" operator="in"/></filter>
<filter id="TAM" x="0" y="0" width="1" height="1" color-interpolation-filters="sRGB"><feTurbulence type="fractalNoise" baseFrequency="0.028" numOctaves="2" seed="25" result="lo"/><feDisplacementMap in="SourceGraphic" in2="lo" scale="8" xChannelSelector="G" yChannelSelector="B" result="d"/><feGaussianBlur in="d" stdDeviation="4" result="b"/><feColorMatrix in="b" type="matrix" values="1 0 0 0 0 0 1 0 0 0 0 0 1 0 0 0 0 0 30 0" result="s"/><feTurbulence type="fractalNoise" baseFrequency="0.05 0.2" numOctaves="3" seed="14" result="m0"/><feComposite in="m0" in2="lo" operator="arithmetic" k2="0.55" k3="0.25" result="m1"/><feTurbulence type="fractalNoise" baseFrequency="0.3" numOctaves="1" seed="19" result="fi"/><feComposite in="m1" in2="fi" operator="arithmetic" k2="1" k3="0.2" result="m"/><feColorMatrix in="m" type="matrix" values="0 0 0 0 0 0 0 0 0 0 0 0 0 0 0 1 0 0 0 0" result="a"/><feComposite in="a" in2="b" operator="arithmetic" k2="1" k3="0.14" k4="-0.14" result="c"/><feColorMatrix in="c" type="matrix" values="0 0 0 0 0 0 0 0 0 0 0 0 0 0 0 0 0 0 40 -21.40" result="k"/><feComposite in="s" in2="k" operator="in"/></filter>
<filter id="TBM" x="0" y="0" width="1" height="1" color-interpolation-filters="sRGB"><feTurbulence type="fractalNoise" baseFrequency="0.028" numOctaves="2" seed="32" result="lo"/><feDisplacementMap in="SourceGraphic" in2="lo" scale="8" xChannelSelector="G" yChannelSelector="B" result="d"/><feGaussianBlur in="d" stdDeviation="4" result="b"/><feColorMatrix in="b" type="matrix" values="1 0 0 0 0 0 1 0 0 0 0 0 1 0 0 0 0 0 30 0" result="s"/><feTurbulence type="fractalNoise" baseFrequency="0.036 0.22" numOctaves="3" seed="21" result="m0"/><feComposite in="m0" in2="lo" operator="arithmetic" k2="0.6" k3="0.14" result="m1"/><feTurbulence type="fractalNoise" baseFrequency="0.3" numOctaves="1" seed="26" result="fi"/><feComposite in="m1" in2="fi" operator="arithmetic" k2="1" k3="0.26" result="m"/><feColorMatrix in="m" type="matrix" values="0 0 0 0 0 0 0 0 0 0 0 0 0 0 0 1 0 0 0 0" result="a"/><feComposite in="a" in2="b" operator="arithmetic" k2="1" k3="0.14" k4="-0.14" result="c"/><feColorMatrix in="c" type="matrix" values="0 0 0 0 0 0 0 0 0 0 0 0 0 0 0 0 0 0 40 -21.40" result="k"/><feComposite in="s" in2="k" operator="in"/></filter>
<filter id="HAM" x="0" y="0" width="1" height="1" color-interpolation-filters="sRGB"><feTurbulence type="fractalNoise" baseFrequency="0.028" numOctaves="2" seed="38" result="lo"/><feDisplacementMap in="SourceGraphic" in2="lo" scale="10" xChannelSelector="G" yChannelSelector="B" result="d"/><feGaussianBlur in="d" stdDeviation="4" result="b"/><feColorMatrix in="b" type="matrix" values="1 0 0 0 0 0 1 0 0 0 0 0 1 0 0 0 0 0 30 0" result="s"/><feTurbulence type="fractalNoise" baseFrequency="0.04 0.18" numOctaves="3" seed="27" result="m0"/><feComposite in="m0" in2="lo" operator="arithmetic" k2="0.55" k3="0.27" result="m1"/><feTurbulence type="fractalNoise" baseFrequency="0.3" numOctaves="1" seed="32" result="fi"/><feComposite in="m1" in2="fi" operator="arithmetic" k2="1" k3="0.18" result="m"/><feColorMatrix in="m" type="matrix" values="0 0 0 0 0 0 0 0 0 0 0 0 0 0 0 1 0 0 0 0" result="a"/><feComposite in="a" in2="b" operator="arithmetic" k2="1" k3="0.18" k4="-0.18" result="c"/><feColorMatrix in="c" type="matrix" values="0 0 0 0 0 0 0 0 0 0 0 0 0 0 0 0 0 0 40 -19.80" result="k"/><feComposite in="s" in2="k" operator="in"/></filter>
<filter id="HBM" x="0" y="0" width="1" height="1" color-interpolation-filters="sRGB"><feTurbulence type="fractalNoise" baseFrequency="0.028" numOctaves="2" seed="45" result="lo"/><feDisplacementMap in="SourceGraphic" in2="lo" scale="10" xChannelSelector="G" yChannelSelector="B" result="d"/><feGaussianBlur in="d" stdDeviation="4" result="b"/><feColorMatrix in="b" type="matrix" values="1 0 0 0 0 0 1 0 0 0 0 0 1 0 0 0 0 0 30 0" result="s"/><feTurbulence type="fractalNoise" baseFrequency="0.032 0.21" numOctaves="3" seed="34" result="m0"/><feComposite in="m0" in2="lo" operator="arithmetic" k2="0.6" k3="0.16" result="m1"/><feTurbulence type="fractalNoise" baseFrequency="0.3" numOctaves="1" seed="39" result="fi"/><feComposite in="m1" in2="fi" operator="arithmetic" k2="1" k3="0.24" result="m"/><feColorMatrix in="m" type="matrix" values="0 0 0 0 0 0 0 0 0 0 0 0 0 0 0 1 0 0 0 0" result="a"/><feComposite in="a" in2="b" operator="arithmetic" k2="1" k3="0.18" k4="-0.18" result="c"/><feColorMatrix in="c" type="matrix" values="0 0 0 0 0 0 0 0 0 0 0 0 0 0 0 0 0 0 40 -19.80" result="k"/><feComposite in="s" in2="k" operator="in"/></filter>
<filter id="DAM" x="0" y="0" width="1" height="1" color-interpolation-filters="sRGB"><feTurbulence type="fractalNoise" baseFrequency="0.028" numOctaves="2" seed="51" result="lo"/><feDisplacementMap in="SourceGraphic" in2="lo" scale="10" xChannelSelector="G" yChannelSelector="B" result="d"/><feGaussianBlur in="d" stdDeviation="4" result="b"/><feColorMatrix in="b" type="matrix" values="1 0 0 0 0 0 1 0 0 0 0 0 1 0 0 0 0 0 30 0" result="s"/><feTurbulence type="fractalNoise" baseFrequency="0.035 0.17" numOctaves="3" seed="40" result="m0"/><feComposite in="m0" in2="lo" operator="arithmetic" k2="0.55" k3="0.27" result="m1"/><feTurbulence type="fractalNoise" baseFrequency="0.3" numOctaves="1" seed="45" result="fi"/><feComposite in="m1" in2="fi" operator="arithmetic" k2="1" k3="0.18" result="m"/><feColorMatrix in="m" type="matrix" values="0 0 0 0 0 0 0 0 0 0 0 0 0 0 0 1 0 0 0 0" result="a"/><feComposite in="a" in2="b" operator="arithmetic" k2="1" k3="0.2" k4="-0.2" result="c"/><feColorMatrix in="c" type="matrix" values="0 0 0 0 0 0 0 0 0 0 0 0 0 0 0 0 0 0 40 -17.80" result="k"/><feComposite in="s" in2="k" operator="in"/></filter>
<filter id="DBM" x="0" y="0" width="1" height="1" color-interpolation-filters="sRGB"><feTurbulence type="fractalNoise" baseFrequency="0.028" numOctaves="2" seed="58" result="lo"/><feDisplacementMap in="SourceGraphic" in2="lo" scale="10" xChannelSelector="G" yChannelSelector="B" result="d"/><feGaussianBlur in="d" stdDeviation="4" result="b"/><feColorMatrix in="b" type="matrix" values="1 0 0 0 0 0 1 0 0 0 0 0 1 0 0 0 0 0 30 0" result="s"/><feTurbulence type="fractalNoise" baseFrequency="0.03 0.2" numOctaves="3" seed="47" result="m0"/><feComposite in="m0" in2="lo" operator="arithmetic" k2="0.6" k3="0.16" result="m1"/><feTurbulence type="fractalNoise" baseFrequency="0.3" numOctaves="1" seed="52" result="fi"/><feComposite in="m1" in2="fi" operator="arithmetic" k2="1" k3="0.24" result="m"/><feColorMatrix in="m" type="matrix" values="0 0 0 0 0 0 0 0 0 0 0 0 0 0 0 1 0 0 0 0" result="a"/><feComposite in="a" in2="b" operator="arithmetic" k2="1" k3="0.2" k4="-0.2" result="c"/><feColorMatrix in="c" type="matrix" values="0 0 0 0 0 0 0 0 0 0 0 0 0 0 0 0 0 0 40 -17.80" result="k"/><feComposite in="s" in2="k" operator="in"/></filter>
<filter id="FAM" x="0" y="0" width="1" height="1" color-interpolation-filters="sRGB"><feTurbulence type="fractalNoise" baseFrequency="0.028" numOctaves="2" seed="64" result="lo"/><feDisplacementMap in="SourceGraphic" in2="lo" scale="10" xChannelSelector="G" yChannelSelector="B" result="d"/><feGaussianBlur in="d" stdDeviation="3.5" result="b"/><feColorMatrix in="b" type="matrix" values="1 0 0 0 0 0 1 0 0 0 0 0 1 0 0 0 0 0 30 0" result="s"/><feTurbulence type="fractalNoise" baseFrequency="0.06 0.13" numOctaves="3" seed="53" result="m0"/><feComposite in="m0" in2="lo" operator="arithmetic" k2="0.55" k3="0.27" result="m1"/><feTurbulence type="fractalNoise" baseFrequency="0.3" numOctaves="1" seed="58" result="fi"/><feComposite in="m1" in2="fi" operator="arithmetic" k2="1" k3="0.18" result="m"/><feColorMatrix in="m" type="matrix" values="0 0 0 0 0 0 0 0 0 0 0 0 0 0 0 1 0 0 0 0" result="a"/><feComposite in="a" in2="b" operator="arithmetic" k2="1" k3="0.3" k4="-0.3" result="c"/><feColorMatrix in="c" type="matrix" values="0 0 0 0 0 0 0 0 0 0 0 0 0 0 0 0 0 0 40 -16.20" result="k"/><feComposite in="s" in2="k" operator="in"/></filter>
<filter id="SAM" x="0" y="0" width="1" height="1" color-interpolation-filters="sRGB"><feTurbulence type="fractalNoise" baseFrequency="0.028" numOctaves="2" seed="77" result="lo"/><feDisplacementMap in="SourceGraphic" in2="lo" scale="9" xChannelSelector="G" yChannelSelector="B" result="d"/><feGaussianBlur in="d" stdDeviation="2.5" result="b"/><feColorMatrix in="b" type="matrix" values="1 0 0 0 0 0 1 0 0 0 0 0 1 0 0 0 0 0 30 0" result="s"/><feTurbulence type="fractalNoise" baseFrequency="0.11" numOctaves="2" seed="66" result="m0"/><feOffset in="m0" result="m"/><feColorMatrix in="m" type="matrix" values="0 0 0 0 0 0 0 0 0 0 0 0 0 0 0 1 0 0 0 0" result="a"/><feComposite in="a" in2="b" operator="arithmetic" k2="1" k3="0.55" k4="-0.55" result="c"/><feColorMatrix in="c" type="matrix" values="0 0 0 0 0 0 0 0 0 0 0 0 0 0 0 0 0 0 30 -6.60" result="k"/><feComposite in="s" in2="k" operator="in"/></filter>
<filter id="SBM" x="0" y="0" width="1" height="1" color-interpolation-filters="sRGB"><feTurbulence type="fractalNoise" baseFrequency="0.028" numOctaves="2" seed="84" result="lo"/><feDisplacementMap in="SourceGraphic" in2="lo" scale="9" xChannelSelector="G" yChannelSelector="B" result="d"/><feGaussianBlur in="d" stdDeviation="2.5" result="b"/><feColorMatrix in="b" type="matrix" values="1 0 0 0 0 0 1 0 0 0 0 0 1 0 0 0 0 0 30 0" result="s"/><feTurbulence type="fractalNoise" baseFrequency="0.11" numOctaves="2" seed="73" result="m0"/><feOffset in="m0" result="m"/><feColorMatrix in="m" type="matrix" values="0 0 0 0 0 0 0 0 0 0 0 0 0 0 0 1 0 0 0 0" result="a"/><feComposite in="a" in2="b" operator="arithmetic" k2="1" k3="0.55" k4="-0.55" result="c"/><feColorMatrix in="c" type="matrix" values="0 0 0 0 0 0 0 0 0 0 0 0 0 0 0 0 0 0 30 -6.60" result="k"/><feComposite in="s" in2="k" operator="in"/></filter>
</defs>
<rect width="2311" height="2422" fill="#fff"/>
<g clip-path="url(#clipA)"><g filter="url(#OAP)"><rect x="449" y="158" width="182" height="134" fill="none"/><path d="M485,227 535,207 560,194 595,207 595,257 560,252 510,244Z" fill="#eaa6cb"/></g>
<g filter="url(#OAP)"><rect x="759" y="366" width="202" height="171" fill="none"/><path d="M795,402 850,417 865,457 860,501 800,501ZM882,432 925,427 925,470 882,472Z" fill="#eaa6cb"/></g>
<g filter="url(#OAP)"><rect x="439" y="510" width="262" height="444" fill="none"/><path d="M620,548 660,546 660,566 620,566ZM475,623 535,603 610,623 665,673 660,798 610,873 560,917 510,917 490,823 480,723Z" fill="#eaa6cb"/></g>
<g filter="url(#OAL)"><rect x="462" y="420" width="147" height="170" fill="none"/><path d="M535,456 572,463 565,498 535,530 505,553 498,536 525,498Z" fill="#dff0c8"/></g>
<g filter="url(#OAL)"><rect x="874" y="482" width="94" height="87" fill="none"/><path d="M910,518 932,520 930,533 912,530Z" fill="#dff0c8"/></g>
<g filter="url(#OAL)"><rect x="839" y="754" width="112" height="104" fill="none"/><path d="M875,793 915,790 915,823 880,823Z" fill="#dff0c8"/></g>
<g filter="url(#OAL)"><rect x="952" y="674" width="134" height="134" fill="none"/><path d="M988,710 1050,748 1050,773 988,773Z" fill="#dff0c8"/></g>
<g filter="url(#TAP)"><rect x="575" y="104" width="119" height="62" fill="none"/><path d="M599,132 618,130 670,128 670,137 618,141 600,142Z" fill="#eaa6cb"/></g>
<g filter="url(#TAP)"><rect x="544" y="433" width="110" height="92" fill="none"/><path d="M568,457 610,462 630,501 572,501Z" fill="#eaa6cb"/></g>
<g filter="url(#TAP)"><rect x="498" y="574" width="136" height="136" fill="none"/><path d="M522,608 585,598 610,623 610,673 560,686 525,673Z" fill="#eaa6cb"/></g>
<g filter="url(#TAP)"><rect x="971" y="486" width="103" height="70" fill="none"/><path d="M995,510 1050,518 1050,530 1000,533Z" fill="#eaa6cb"/></g>
<g filter="url(#TAP)"><rect x="761" y="624" width="88" height="98" fill="none"/><path d="M785,648 820,660 825,693 795,698Z" fill="#eaa6cb"/></g>
<g filter="url(#TAP)"><rect x="966" y="776" width="83" height="63" fill="none"/><path d="M990,803 1025,800 1025,816 995,816Z" fill="#eaa6cb"/></g>
<g filter="url(#TAP)"><rect x="851" y="844" width="98" height="78" fill="none"/><path d="M875,873 925,868 925,898 890,898Z" fill="#eaa6cb"/></g>
<g filter="url(#TAP)"><rect x="668" y="975" width="66" height="73" fill="none"/><path d="M692,1004 705,999 710,1024 698,1024Z" fill="#eaa6cb"/></g>
<g transform="rotate(50 1150 650)" filter="url(#TAL)"><rect x="364" y="905" width="93" height="76" fill="none"/><path d="M388,947 416,929 433,936 417,955 399,957Z" fill="#dff0c8"/></g>
<g transform="rotate(30 1150 650)" filter="url(#TAP)"><rect x="353" y="779" width="196" height="124" fill="none"/><path d="M377,816 385,805 396,834 434,840 473,807 499,803 525,817 521,841 456,878 408,855Z" fill="#eaa6cb"/></g>
<g filter="url(#TAL)"><rect x="506" y="430" width="80" height="78" fill="none"/><path d="M530,457 550,454 562,472 550,484 535,477Z" fill="#dff0c8"/></g>
<g filter="url(#TAL)"><rect x="1008" y="1162" width="70" height="68" fill="none"/><path d="M1032,1188 1055,1186 1055,1206 1035,1206Z" fill="#dff0c8"/></g>
<g transform="rotate(60 1150 650)" filter="url(#TAP)"><rect x="478" y="973" width="175" height="89" fill="none"/><path d="M502,1006 520,1005 540,1020 567,1024 596,1023 620,997 629,1007 602,1032 571,1037 540,1031Z" fill="#eaa6cb"/></g>
<g transform="rotate(60 1150 650)" filter="url(#TAP)"><rect x="710" y="776" width="167" height="148" fill="none"/><path d="M734,834 760,800 798,804 818,839 853,866 833,900 798,874Z" fill="#eaa6cb"/></g>
<g transform="rotate(60 1150 650)" filter="url(#TAP)"><rect x="671" y="991" width="106" height="93" fill="none"/><path d="M695,1060 718,1024 752,1015 748,1042 720,1060Z" fill="#eaa6cb"/></g>
<g transform="rotate(60 1150 650)" filter="url(#TAP)"><rect x="969" y="1253" width="141" height="96" fill="none"/><path d="M993,1298 1014,1282 1046,1277 1086,1294 1069,1325 1028,1307Z" fill="#eaa6cb"/></g>
<g transform="rotate(60 1150 650)" filter="url(#TAP)"><rect x="1075" y="926" width="99" height="91" fill="none"/><path d="M1099,979 1119,950 1143,958 1150,985 1123,992Z" fill="#eaa6cb"/></g>
<g transform="rotate(45 1150 650)" filter="url(#TAP)"><rect x="455" y="936" width="156" height="129" fill="none"/><path d="M479,1036 555,960 579,977 586,1006 548,1023 519,1030 502,1041Z" fill="#eaa6cb"/></g>
<g transform="rotate(45 1150 650)" filter="url(#TAP)"><rect x="1139" y="1085" width="113" height="85" fill="none"/><path d="M1163,1141 1181,1120 1206,1109 1229,1118 1209,1134 1186,1146Z" fill="#eaa6cb"/></g>
<g transform="rotate(70 1150 650)" filter="url(#TAP)"><rect x="1402" y="1242" width="84" height="74" fill="none"/><path d="M1426,1277 1430,1266 1462,1280 1458,1292Z" fill="#eaa6cb"/></g>
<g filter="url(#TAK)"><rect x="1048" y="1181" width="64" height="82" fill="none"/><path d="M1072,1206 1088,1205 1089,1239 1075,1239Z" fill="#a6dc6a"/></g>
<g filter="url(#HAL)"><rect x="445" y="256" width="96" height="98" fill="none"/><path d="M471,284 485,282 502,297 515,307 512,322 502,328 490,320 480,302Z" fill="#dff0c8"/></g>
<g filter="url(#HAL)"><rect x="649" y="792" width="87" height="132" fill="none"/><path d="M675,820 692,818 695,836 680,838ZM685,880 705,878 710,898 690,898Z" fill="#dff0c8"/></g>
<g filter="url(#HAL)"><rect x="986" y="497" width="71" height="61" fill="none"/><path d="M1012,524 1030,523 1031,530 1014,532Z" fill="#dff0c8"/></g>
<g filter="url(#HAL)"><rect x="992" y="814" width="124" height="278" fill="none"/><path d="M1050,846 1090,840 1090,853 1055,856ZM1050,883 1070,880 1075,898 1055,900ZM1038,946 1060,939 1080,944 1075,956 1050,959ZM1045,1029 1070,1026 1088,1034 1085,1046 1055,1044ZM1018,1062 1030,1063 1030,1066 1018,1065Z" fill="#dff0c8"/></g>
<g filter="url(#HAL)"><rect x="929" y="867" width="80" height="76" fill="none"/><path d="M955,896 978,893 982,917 958,917Z" fill="#dff0c8"/></g>
<g filter="url(#HAL)"><rect x="556" y="960" width="82" height="100" fill="none"/><path d="M600,986 612,989 610,1004 600,1002ZM582,1014 592,1016 592,1034 585,1029Z" fill="#dff0c8"/></g>
<g filter="url(#HAL)"><rect x="634" y="1163" width="67" height="62" fill="none"/><path d="M660,1189 675,1189 675,1199 660,1199Z" fill="#dff0c8"/></g>
<g filter="url(#HAL)"><rect x="734" y="1092" width="70" height="61" fill="none"/><path d="M760,1119 778,1118 778,1126 760,1126Z" fill="#dff0c8"/></g>
<g filter="url(#HAL)"><rect x="974" y="1156" width="64" height="62" fill="none"/><path d="M1000,1183 1012,1182 1012,1190 1001,1192Z" fill="#dff0c8"/></g>
<g filter="url(#HAP)"><rect x="344" y="305" width="80" height="76" fill="none"/><path d="M370,331 390,332 398,354 385,352Z" fill="#eaa6cb"/></g>
<g filter="url(#HAP)"><rect x="406" y="441" width="104" height="86" fill="none"/><path d="M432,472 455,467 475,482 485,501 435,501Z" fill="#eaa6cb"/></g>
<g filter="url(#HAP)"><rect x="635" y="190" width="70" height="64" fill="none"/><path d="M661,220 678,216 679,224 665,228Z" fill="#eaa6cb"/></g>
<g filter="url(#HAP)"><rect x="546" y="336" width="84" height="72" fill="none"/><path d="M572,364 598,362 605,377 585,382Z" fill="#eaa6cb"/></g>
<g filter="url(#HAP)"><rect x="629" y="562" width="72" height="67" fill="none"/><path d="M655,590 670,588 675,600 660,603Z" fill="#eaa6cb"/></g>
<g filter="url(#HAP)"><rect x="514" y="654" width="77" height="67" fill="none"/><path d="M540,683 562,680 565,693 545,696Z" fill="#eaa6cb"/></g>
<g filter="url(#HAP)"><rect x="644" y="1146" width="77" height="70" fill="none"/><path d="M670,1174 695,1172 695,1189 672,1189Z" fill="#eaa6cb"/></g>
<g filter="url(#HAP)"><rect x="614" y="1210" width="64" height="63" fill="none"/><path d="M640,1238 652,1236 651,1246 640,1248Z" fill="#eaa6cb"/></g>
<g transform="rotate(20 1150 650)" filter="url(#HAP)"><rect x="315" y="599" width="129" height="94" fill="none"/><path d="M341,657 354,641 382,631 412,625 418,642 405,657 374,666 348,667Z" fill="#eaa6cb"/></g>
<g transform="rotate(20 1150 650)" filter="url(#HAP)"><rect x="435" y="436" width="82" height="63" fill="none"/><path d="M461,467 480,462 491,466 479,473 466,473Z" fill="#eaa6cb"/></g>
<g transform="rotate(20 1150 650)" filter="url(#HAP)"><rect x="1019" y="637" width="88" height="64" fill="none"/><path d="M1045,668 1064,663 1081,665 1078,671 1053,675Z" fill="#eaa6cb"/></g>
<g transform="rotate(-10 1150 650)" filter="url(#HAP)"><rect x="826" y="336" width="94" height="57" fill="none"/><path d="M853,362 894,362 893,367 852,367Z" fill="#eaa6cb"/></g>
<g transform="rotate(60 1150 650)" filter="url(#HAP)"><rect x="804" y="675" width="85" height="71" fill="none"/><path d="M830,719 835,705 858,701 862,712 850,719Z" fill="#eaa6cb"/></g>
<g transform="rotate(60 1150 650)" filter="url(#HAP)"><rect x="892" y="1097" width="103" height="86" fill="none"/><path d="M918,1157 924,1137 950,1123 970,1123 967,1139 943,1154Z" fill="#eaa6cb"/></g>
<g transform="rotate(-45 1150 650)" filter="url(#HAL)"><rect x="1042" y="331" width="111" height="69" fill="none"/><path d="M1077,366 1097,360 1127,369 1126,374 1097,370 1082,371ZM1068,364 1090,357 1097,360 1086,368 1073,370Z" fill="#dff0c8"/></g>
<g transform="rotate(40 1150 650)" filter="url(#HAP)"><rect x="686" y="774" width="143" height="137" fill="none"/><path d="M720,822 759,800 804,853 778,868 747,878 727,885 712,852Z" fill="#eaa6cb"/></g>
<g transform="rotate(-30 1150 650)" filter="url(#HAP)"><rect x="878" y="301" width="88" height="89" fill="none"/><path d="M904,327 929,333 940,353 928,364 907,351Z" fill="#eaa6cb"/></g>
<g filter="url(#HAK)"><rect x="785" y="521" width="66" height="61" fill="none"/><path d="M811,548 824,547 825,556 815,556Z" fill="#a6dc6a"/></g>
<g transform="rotate(-30 1150 650)" filter="url(#HAL)"><rect x="736" y="826" width="75" height="62" fill="none"/><path d="M762,852 783,856 785,862 763,860Z" fill="#dff0c8"/></g>
<g transform="rotate(30 1150 650)" filter="url(#DAP)"><rect x="600" y="599" width="140" height="194" fill="none"/><path d="M626,672 644,653 678,625 693,651 673,674 642,680ZM638,753 650,734 689,732 713,744 695,766 666,762 650,763Z" fill="#eaa6cb"/></g>
<g transform="rotate(30 1150 650)" filter="url(#DAP)"><rect x="710" y="787" width="105" height="82" fill="none"/><path d="M736,832 760,815 788,813 784,836 765,844 742,843Z" fill="#eaa6cb"/></g>
<g filter="url(#DAP)"><rect x="629" y="451" width="82" height="76" fill="none"/><path d="M655,482 675,477 685,501 655,501Z" fill="#eaa6cb"/></g>
<g filter="url(#DAP)"><rect x="949" y="494" width="144" height="87" fill="none"/><path d="M975,523 992,520 995,543 980,546ZM1015,536 1035,532 1055,534 1068,543 1055,553 1032,556 1020,548Z" fill="#eaa6cb"/></g>
<g transform="rotate(60 1150 650)" filter="url(#DAP)"><rect x="682" y="828" width="132" height="141" fill="none"/><path d="M708,914 709,898 722,865 745,855 769,854 785,866 788,891 775,924 758,943Z" fill="#eaa6cb"/></g>
<g filter="url(#DAL)"><rect x="936" y="394" width="92" height="90" fill="none"/><path d="M962,427 975,420 990,424 1000,432 1002,447 992,457 975,452 962,442Z" fill="#dff0c8"/></g>
<g filter="url(#DAL)"><rect x="526" y="918" width="84" height="72" fill="none"/><path d="M552,946 572,944 585,954 580,964 560,962Z" fill="#dff0c8"/></g>
<g filter="url(#DAL)"><rect x="929" y="870" width="92" height="72" fill="none"/><path d="M955,902 975,896 995,902 992,914 962,916Z" fill="#dff0c8"/></g>
<g transform="rotate(-30 1150 650)" filter="url(#DAP)"><rect x="775" y="314" width="171" height="102" fill="none"/><path d="M867,340 896,340 914,359 921,382 902,389 873,390 840,388 809,370 801,354 826,351 855,351Z" fill="#eaa6cb"/></g>
<g transform="rotate(40 1150 650)" filter="url(#DAP)"><rect x="833" y="757" width="135" height="75" fill="none"/><path d="M859,797 865,785 883,783 900,788 920,788 942,783 942,791 924,801 902,806 883,806 869,805Z" fill="#eaa6cb"/></g>
<g transform="rotate(70 1150 650)" filter="url(#DAP)"><rect x="994" y="975" width="98" height="85" fill="none"/><path d="M1020,1023 1025,1003 1041,1001 1058,1013 1066,1029 1051,1034Z" fill="#eaa6cb"/></g>
<g filter="url(#SAP)"><rect x="376" y="94" width="44" height="45" fill="none"/><path d="M397,114 400,114 400,118 397,118Z" fill="#eaa6cb"/></g>
<g filter="url(#SAP)"><rect x="403" y="135" width="44" height="44" fill="none"/><path d="M424,155 427,155 427,159 424,159Z" fill="#eaa6cb"/></g>
<g filter="url(#SAP)"><rect x="305" y="193" width="44" height="44" fill="none"/><path d="M326,214 329,214 329,217 326,217Z" fill="#eaa6cb"/></g>
<g filter="url(#SAP)"><rect x="337" y="284" width="44" height="44" fill="none"/><path d="M358,305 361,305 361,308 358,308Z" fill="#eaa6cb"/></g>
<g filter="url(#SAP)"><rect x="597" y="50" width="72" height="58" fill="none"/><path d="M618,71 645,72 649,82 635,88 620,83Z" fill="#eaa6cb"/></g>
<g filter="url(#SAP)"><rect x="930" y="236" width="54" height="52" fill="none"/><path d="M950,257 954,257 954,261 950,261ZM959,264 962,264 962,268 959,268Z" fill="#eaa6cb"/></g>
<g filter="url(#SAP)"><rect x="680" y="580" width="76" height="67" fill="none"/><path d="M700,603 720,600 735,610 732,626 720,627 708,616Z" fill="#eaa6cb"/></g>
<g filter="url(#SAL)"><rect x="626" y="56" width="60" height="55" fill="none"/><path d="M646,81 658,77 665,86 652,91Z" fill="#dff0c8"/></g>
<g filter="url(#SAL)"><rect x="610" y="204" width="60" height="62" fill="none"/><path d="M631,224 642,227 649,244 635,246 630,237Z" fill="#dff0c8"/></g>
<g filter="url(#SAL)"><rect x="710" y="279" width="58" height="65" fill="none"/><path d="M730,307 742,300 748,317 732,323ZM731,307 741,302 748,314 740,323 731,320Z" fill="#dff0c8"/></g>
<g filter="url(#SAL)"><rect x="804" y="316" width="52" height="47" fill="none"/><path d="M825,338 836,336 835,342 826,343Z" fill="#dff0c8"/></g>
<g filter="url(#SAK)"><rect x="700" y="21" width="55" height="46" fill="none"/><path d="M720,42 734,42 734,46 720,46Z" fill="#a6dc6a"/></g>
<g transform="rotate(-40 1150 650)" filter="url(#TAG)"><rect x="1235" y="326" width="109" height="88" fill="none"/><path d="M1264,350 1288,361 1320,361 1296,390 1278,381 1259,372Z" fill="#4b9120"/></g>
<g transform="rotate(20 1150 650)" filter="url(#TAG)"><rect x="817" y="463" width="104" height="77" fill="none"/><path d="M841,492 862,487 881,489 897,510 888,516 870,501 847,496Z" fill="#4b9120"/></g>
<g filter="url(#TAG)"><rect x="571" y="1030" width="63" height="83" fill="none"/><path d="M595,1054 610,1054 608,1089 598,1089Z" fill="#4b9120"/></g>
<g filter="url(#TAG)"><rect x="786" y="1072" width="63" height="63" fill="none"/><path d="M810,1096 825,1096 825,1112 810,1112Z" fill="#4b9120"/></g>
<g transform="rotate(-30 1150 650)" filter="url(#TAG)"><rect x="508" y="791" width="96" height="100" fill="none"/><path d="M532,815 557,823 580,845 568,867 547,844 533,829Z" fill="#4b9120"/></g>
<g transform="rotate(45 1150 650)" filter="url(#HAG)"><rect x="427" y="701" width="84" height="66" fill="none"/><path d="M453,736 464,731 478,727 485,734 474,742 460,742Z" fill="#4b9120"/></g>
<g transform="rotate(45 1150 650)" filter="url(#HAG)"><rect x="523" y="746" width="128" height="151" fill="none"/><path d="M549,830 552,798 575,775 600,772 618,796 625,825 625,853 607,871 580,862 557,849Z" fill="#4b9120"/></g>
<g transform="rotate(45 1150 650)" filter="url(#HAG)"><rect x="1154" y="803" width="84" height="75" fill="none"/><path d="M1180,843 1187,829 1205,832 1212,847 1200,852Z" fill="#4b9120"/></g>
<g transform="rotate(45 1150 650)" filter="url(#HAG)"><rect x="1127" y="1228" width="137" height="112" fill="none"/><path d="M1153,1289 1178,1279 1202,1268 1224,1254 1238,1275 1231,1296 1209,1310 1178,1314Z" fill="#4b9120"/></g>
<g transform="rotate(40 1150 650)" filter="url(#HAG)"><rect x="671" y="331" width="71" height="64" fill="none"/><path d="M697,367 705,357 716,366 706,369Z" fill="#4b9120"/></g>
<g transform="rotate(-45 1150 650)" filter="url(#HAG)"><rect x="1138" y="45" width="79" height="60" fill="none"/><path d="M1165,71 1191,73 1191,79 1164,79Z" fill="#4b9120"/></g>
<g transform="rotate(-45 1150 650)" filter="url(#HAG)"><rect x="460" y="673" width="87" height="97" fill="none"/><path d="M493,699 511,702 521,719 496,744 486,727 486,713Z" fill="#4b9120"/></g>
<g transform="rotate(60 1150 650)" filter="url(#HAG)"><rect x="931" y="710" width="101" height="107" fill="none"/><path d="M957,781 963,755 982,747 1000,736 1006,746 1000,766 1001,784 985,792 968,791Z" fill="#4b9120"/></g>
<g filter="url(#HAG)"><rect x="932" y="481" width="70" height="68" fill="none"/><path d="M958,510 972,507 975,518 962,523Z" fill="#4b9120"/></g>
<g filter="url(#HAG)"><rect x="1022" y="804" width="67" height="67" fill="none"/><path d="M1048,833 1060,830 1062,843 1050,846Z" fill="#4b9120"/></g>
<g transform="rotate(-30 1150 650)" filter="url(#HAG)"><rect x="778" y="995" width="71" height="56" fill="none"/><path d="M804,1022 823,1021 823,1026 805,1025Z" fill="#4b9120"/></g>
<g transform="rotate(50 1150 650)" filter="url(#DAG)"><rect x="358" y="912" width="113" height="68" fill="none"/><path d="M384,950 391,943 415,938 436,944 445,947 436,952 415,954 395,953Z" fill="#4b9120"/></g>
<g transform="rotate(50 1150 650)" filter="url(#DAG)"><rect x="660" y="699" width="101" height="78" fill="none"/><path d="M686,751 692,742 705,740 714,725 734,729 736,736 716,743 699,751Z" fill="#4b9120"/></g>
<g transform="rotate(30 1150 650)" filter="url(#DAG)"><rect x="314" y="706" width="125" height="102" fill="none"/><path d="M344,748 365,740 388,740 407,732 413,746 409,757 381,767 369,777 356,782 353,769 340,762Z" fill="#4b9120"/></g>
<g filter="url(#DAG)"><rect x="384" y="381" width="80" height="68" fill="none"/><path d="M410,407 420,410 438,418 435,423 420,420Z" fill="#4b9120"/></g>
<g filter="url(#DAG)"><rect x="714" y="590" width="66" height="70" fill="none"/><path d="M740,623 754,616 754,633 742,632Z" fill="#4b9120"/></g>
<g filter="url(#DAG)"><rect x="569" y="840" width="90" height="61" fill="none"/><path d="M595,868 632,866 632,873 598,874Z" fill="#4b9120"/></g>
<g filter="url(#DAG)"><rect x="899" y="870" width="80" height="61" fill="none"/><path d="M925,897 952,896 952,903 925,904Z" fill="#4b9120"/></g>
<g transform="rotate(60 1150 650)" filter="url(#DAG)"><rect x="525" y="739" width="89" height="89" fill="none"/><path d="M551,786 556,765 588,783 583,802 569,801 555,794Z" fill="#4b9120"/></g>
<g transform="rotate(-45 1150 650)" filter="url(#DAG)"><rect x="909" y="53" width="262" height="91" fill="none"/><path d="M1144,96 1128,112 1096,118 1064,114 1030,112 997,110 965,107 940,96 935,84 958,79 997,82 1032,89 1069,95 1101,98 1127,93Z" fill="#4b9120"/></g>
<g transform="rotate(-25 1150 650)" filter="url(#DAG)"><rect x="807" y="161" width="147" height="89" fill="none"/><path d="M841,188 880,187 928,190 912,224 881,221 851,215 833,206Z" fill="#4b9120"/></g>
<g transform="rotate(-25 1150 650)" filter="url(#DAG)"><rect x="1112" y="420" width="87" height="70" fill="none"/><path d="M1138,451 1157,446 1173,459 1165,463 1142,461Z" fill="#4b9120"/></g>
<g transform="rotate(-35 1150 650)" filter="url(#DAG)"><rect x="933" y="71" width="149" height="97" fill="none"/><path d="M1014,103 1028,97 1050,104 1047,113 1057,125 1050,131 1025,131 1012,132 987,142 959,138 972,119 992,117Z" fill="#4b9120"/></g>
<g transform="rotate(-35 1150 650)" filter="url(#DAG)"><rect x="1155" y="348" width="143" height="86" fill="none"/><path d="M1188,374 1215,374 1241,380 1272,378 1259,399 1240,408 1219,408 1195,403 1181,387Z" fill="#4b9120"/></g>
<g transform="rotate(-20 1150 650)" filter="url(#DAG)"><rect x="795" y="192" width="167" height="79" fill="none"/><path d="M901,230 930,230 936,238 928,243 901,238ZM828,218 855,218 880,221 898,239 893,245 861,238 837,238 821,240Z" fill="#4b9120"/></g>
<g transform="rotate(-30 1150 650)" filter="url(#DAG)"><rect x="1026" y="360" width="189" height="91" fill="none"/><path d="M1153,394 1180,398 1190,421 1176,425 1154,424 1136,425 1135,416ZM1052,394 1076,388 1103,386 1104,398 1080,401 1054,401Z" fill="#4b9120"/></g>
<g transform="rotate(-10 1150 650)" filter="url(#DAG)"><rect x="651" y="484" width="166" height="77" fill="none"/><path d="M679,514 702,516 727,515 743,510 771,520 768,535 739,532 724,535 698,535 683,535 677,524ZM717,514 743,511 768,515 791,524 785,533 766,527 740,525 715,526Z" fill="#4b9120"/></g>
<g transform="rotate(10 1150 650)" filter="url(#DAG)"><rect x="562" y="674" width="142" height="76" fill="none"/><path d="M588,717 594,709 610,710 616,717 638,710 646,701 659,700 678,706 673,712 655,707 643,714 622,724 609,721 591,721Z" fill="#4b9120"/></g>
<g transform="rotate(-50 1150 650)" filter="url(#DAG)"><rect x="709" y="381" width="101" height="66" fill="none"/><path d="M784,409 784,417 765,421 744,416 735,407 750,411 768,413Z" fill="#4b9120"/></g>
<g transform="rotate(80 1150 650)" filter="url(#DAG)"><rect x="1222" y="1081" width="73" height="65" fill="none"/><path d="M1248,1117 1249,1107 1270,1112 1267,1120Z" fill="#4b9120"/></g>
<g transform="rotate(70 1150 650)" filter="url(#DAG)"><rect x="907" y="910" width="90" height="93" fill="none"/><path d="M933,949 933,936 948,944 963,954 970,962 960,977 946,970 940,957Z" fill="#4b9120"/></g>
<g transform="rotate(70 1150 650)" filter="url(#DAG)"><rect x="1137" y="1099" width="80" height="71" fill="none"/><path d="M1163,1134 1169,1125 1187,1126 1192,1144Z" fill="#4b9120"/></g>
<g transform="rotate(-40 1150 650)" filter="url(#DAG)"><rect x="825" y="340" width="95" height="74" fill="none"/><path d="M853,366 882,370 894,384 880,388 851,377Z" fill="#4b9120"/></g>
<g transform="rotate(35 1150 650)" filter="url(#DAG)"><rect x="879" y="687" width="121" height="76" fill="none"/><path d="M905,727 910,718 935,718 956,713 974,713 974,722 955,729 936,736 918,737Z" fill="#4b9120"/></g>
<g transform="rotate(20 1150 650)" filter="url(#DAG)"><rect x="757" y="1215" width="122" height="84" fill="none"/><path d="M783,1255 805,1251 838,1241 853,1252 853,1265 828,1272 802,1273 791,1264Z" fill="#4b9120"/></g>
<g transform="rotate(45 1150 650)" filter="url(#FAG)"><rect x="951" y="1073" width="132" height="112" fill="none"/><path d="M979,1129 979,1108 997,1098 1014,1101 1038,1098 1059,1119 1017,1161 997,1154 975,1147Z" fill="#4b9120"/></g>
<g transform="rotate(45 1150 650)" filter="url(#FAG)"><rect x="1167" y="1332" width="152" height="143" fill="none"/><path d="M1192,1409 1206,1399 1224,1395 1227,1385 1248,1371 1270,1356 1294,1381 1225,1450 1209,1438 1201,1422Z" fill="#4b9120"/></g>
<g transform="rotate(45 1150 650)" filter="url(#FAG)"><rect x="1054" y="828" width="356" height="376" fill="none"/><path d="M1171,1024 1176,1008 1202,1006 1209,992 1224,985 1238,985 1245,999 1238,1013 1238,1035 1248,1052 1266,1049 1284,1045 1291,1031 1315,1028 1333,1028 1333,1045 1312,1059 1308,1077 1326,1088 1344,1091 1346,1107 1326,1116 1312,1130 1298,1137 1277,1144 1262,1165 1248,1173 1234,1173 1238,1155 1245,1134 1234,1116 1216,1105 1213,1088 1206,1066 1188,1056 1178,1038ZM1209,999 1216,985 1231,978 1247,973 1255,953 1261,937 1284,925 1282,909 1284,890 1277,861 1358,943 1368,960 1368,982 1353,994 1344,1006 1326,1003 1305,1010 1291,1010 1291,1024 1277,1024 1266,999 1248,996 1231,1006ZM1079,1109 1119,1042 1165,1022 1212,989 1259,956 1279,909 1269,852 1385,969 1352,1009 1332,1029 1339,1062 1369,1079 1345,1109 1309,1112 1292,1149 1242,1166 1189,1179 1145,1162 1132,1122 1102,1126Z" fill="#4b9120"/></g>
<g transform="rotate(20 1150 650)" filter="url(#FAG)"><rect x="772" y="956" width="235" height="131" fill="none"/><path d="M797,995 812,994 832,1003 854,1006 876,993 893,981 907,992 925,996 944,991 979,984 983,995 818,1055ZM803,1012 825,999 843,1005 868,1002 893,982 908,993 925,997 943,988 961,992 961,1008 944,1019 924,1024 915,1043 912,1063 900,1059 898,1039 882,1039 864,1035 857,1022 834,1025 812,1038Z" fill="#4b9120"/></g>
<g transform="rotate(60 1150 650)" filter="url(#FAG)"><rect x="1285" y="785" width="91" height="122" fill="none"/><path d="M1310,829 1309,810 1352,834 1324,883 1314,872 1315,849Z" fill="#4b9120"/></g>
<g transform="rotate(60 1150 650)" filter="url(#FAG)"><rect x="1101" y="1259" width="163" height="97" fill="none"/><path d="M1127,1318 1133,1293 1150,1288 1160,1296 1178,1290 1199,1293 1214,1287 1229,1291 1235,1311 1232,1326 1214,1328 1191,1326 1165,1322 1144,1319ZM1126,1320 1132,1289 1153,1284 1172,1289 1192,1286 1216,1283 1235,1291 1239,1313 1229,1331 1207,1329 1180,1326 1154,1322Z" fill="#4b9120"/></g>
<g transform="rotate(60 1150 650)" filter="url(#FAG)"><rect x="1376" y="1235" width="136" height="108" fill="none"/><path d="M1401,1274 1414,1260 1488,1302 1479,1319 1450,1308 1433,1287Z" fill="#4b9120"/></g>
<g transform="rotate(40 1150 650)" filter="url(#FAG)"><rect x="1012" y="1170" width="113" height="72" fill="none"/><path d="M1036,1203 1053,1203 1072,1203 1090,1195 1100,1206 1082,1215 1059,1218 1041,1213Z" fill="#4b9120"/></g>
<g transform="rotate(50 1150 650)" filter="url(#FAG)"><rect x="1131" y="1306" width="136" height="120" fill="none"/><path d="M1161,1367 1182,1349 1193,1332 1205,1345 1208,1361 1220,1381 1238,1383 1231,1396 1207,1390 1185,1377ZM1155,1366 1191,1331 1210,1340 1222,1363 1242,1387 1229,1402 1200,1390 1176,1380Z" fill="#4b9120"/></g>
<g transform="rotate(70 1150 650)" filter="url(#FAG)"><rect x="1402" y="1212" width="89" height="96" fill="none"/><path d="M1427,1261 1427,1246 1438,1236 1456,1240 1462,1253 1466,1270 1466,1284 1447,1279Z" fill="#4b9120"/></g>
<g transform="rotate(30 1150 650)" filter="url(#FAG)"><rect x="925" y="1321" width="155" height="94" fill="none"/><path d="M949,1362 968,1366 986,1367 1004,1357 1024,1351 1043,1345 1055,1356 1045,1368 1021,1376 1006,1390 988,1389 969,1377Z" fill="#4b9120"/></g>
<g transform="rotate(30 1150 650)" filter="url(#FAG)"><rect x="914" y="1107" width="216" height="121" fill="none"/><path d="M940,1176 952,1173 969,1181 986,1176 1010,1177 1017,1159 1020,1134 1029,1131 1035,1151 1033,1172 1046,1180 1039,1192 1019,1192 996,1194 974,1195 955,1192ZM939,1175 960,1174 998,1174 1051,1171 1105,1172 1104,1189 1054,1196 1004,1203 955,1194Z" fill="#4b9120"/></g>
<g transform="rotate(30 1150 650)" filter="url(#FAG)"><rect x="1020" y="1160" width="222" height="276" fill="none"/><path d="M1066,1254 1086,1240 1115,1229 1130,1215 1127,1199 1136,1186 1153,1184 1162,1190 1159,1206 1161,1220 1153,1236 1157,1251 1167,1260 1182,1245 1200,1237 1216,1240 1217,1257 1207,1268 1192,1283 1190,1299 1187,1314 1179,1331 1202,1329 1204,1334 1070,1411 1045,1368 1064,1351 1069,1330 1068,1308 1069,1290 1070,1272Z" fill="#4b9120"/></g>
<g transform="rotate(10 1150 650)" filter="url(#FAG)"><rect x="818" y="1000" width="146" height="77" fill="none"/><path d="M842,1036 861,1025 886,1026 902,1030 923,1034 940,1041 932,1053 906,1052 880,1047 859,1045 846,1043Z" fill="#4b9120"/></g>
<g transform="rotate(80 1150 650)" filter="url(#FAG)"><rect x="1501" y="1046" width="79" height="63" fill="none"/><path d="M1526,1084 1529,1072 1547,1070 1556,1077 1550,1084Z" fill="#4b9120"/></g>
<g transform="rotate(-20 1150 650)" filter="url(#FAG)"><rect x="757" y="1124" width="98" height="56" fill="none"/><path d="M782,1151 804,1148 829,1151 830,1155 807,1155 783,1155Z" fill="#4b9120"/></g>
<g filter="url(#SAG)"><rect x="291" y="123" width="55" height="61" fill="none"/><path d="M311,143 318,146 325,157 320,163 314,154Z" fill="#4b9120"/></g>
<g filter="url(#SAG)"><rect x="348" y="154" width="46" height="46" fill="none"/><path d="M368,174 374,174 374,180 368,180Z" fill="#4b9120"/></g>
<g filter="url(#SAG)"><rect x="600" y="63" width="67" height="77" fill="none"/><path d="M620,83 635,88 646,83 640,94 631,98 624,94ZM629,118 635,112 636,120Z" fill="#4b9120"/></g>
<g filter="url(#SAG)"><rect x="484" y="265" width="58" height="46" fill="none"/><path d="M505,286 510,286 510,291 505,291ZM518,286 522,286 522,290 518,290Z" fill="#4b9120"/></g>
<g filter="url(#SAG)"><rect x="600" y="185" width="128" height="114" fill="none"/><path d="M620,230 635,232 645,244 665,240 671,252 675,267 670,278 650,276 635,270 630,257 620,244ZM695,206 704,207 702,222 699,230 708,234 700,240 691,236 689,222Z" fill="#4b9120"/></g>
<g filter="url(#SAG)"><rect x="550" y="386" width="86" height="89" fill="none"/><path d="M582,407 598,422 610,432 608,454 570,452 575,430ZM570,450 615,448 612,454 572,455Z" fill="#4b9120"/></g>
<g filter="url(#SAG)"><rect x="730" y="126" width="53" height="47" fill="none"/><path d="M750,148 755,148 755,152 750,152ZM758,146 762,146 762,150 758,150Z" fill="#4b9120"/></g>
<g filter="url(#SAG)"><rect x="827" y="393" width="58" height="50" fill="none"/><path d="M848,414 856,417 865,413 860,422 854,421Z" fill="#4b9120"/></g>
<g filter="url(#SAG)"><rect x="933" y="400" width="120" height="72" fill="none"/><path d="M1000,421 1015,426 1028,432 1032,442 1020,447 1022,452 1010,452 1012,442 1002,434ZM954,426 961,426 961,432 954,432Z" fill="#4b9120"/></g>
<g filter="url(#SAG)"><rect x="972" y="336" width="46" height="45" fill="none"/><path d="M993,357 998,357 998,361 993,361Z" fill="#4b9120"/></g>
<g filter="url(#SAG)"><rect x="614" y="564" width="71" height="52" fill="none"/><path d="M635,592 648,584 665,584 658,596 645,594Z" fill="#4b9120"/></g>
<g filter="url(#SAG)"><rect x="463" y="709" width="92" height="81" fill="none"/><path d="M505,750 520,750 535,763 520,769 510,766ZM484,729 490,733 489,738ZM489,746 495,748 494,756Z" fill="#4b9120"/></g>
<g filter="url(#SAG)"><rect x="616" y="801" width="50" height="50" fill="none"/><path d="M636,823 644,822 645,830 638,829Z" fill="#4b9120"/></g>
<g filter="url(#SAG)"><rect x="940" y="802" width="56" height="61" fill="none"/><path d="M961,827 970,823 975,830 971,843 965,842 960,834Z" fill="#4b9120"/></g>
<g filter="url(#SAG)"><rect x="527" y="916" width="56" height="52" fill="none"/><path d="M548,942 560,936 562,942 550,948Z" fill="#4b9120"/></g>
<g filter="url(#SAG)"><rect x="923" y="1094" width="102" height="90" fill="none"/><path d="M965,1116 980,1114 990,1124 992,1142 1005,1156 1000,1163 980,1162 965,1154 950,1152 944,1145 960,1136 965,1126Z" fill="#4b9120"/></g>
<g filter="url(#SAG)"><rect x="1046" y="1155" width="47" height="95" fill="none"/><path d="M1066,1175 1072,1175 1072,1180 1066,1180ZM1067,1222 1072,1222 1072,1229 1067,1229Z" fill="#4b9120"/></g>
<g filter="url(#SAG)"><rect x="930" y="1225" width="64" height="60" fill="none"/><path d="M950,1246 962,1245 972,1259 960,1264 950,1259Z" fill="#4b9120"/></g>
<g filter="url(#OAM)"><rect x="896" y="306" width="137" height="94" fill="none"/><path d="M932,342 998,347 998,364 932,364Z" fill="#c6177d"/></g>
<g filter="url(#OAM)"><rect x="474" y="787" width="147" height="166" fill="none"/><path d="M510,823 560,848 585,917 525,917Z" fill="#c6177d"/></g>
<g filter="url(#OAM)"><rect x="809" y="452" width="110" height="92" fill="none"/><path d="M845,488 882,493 882,508 850,506Z" fill="#c6177d"/></g>
<g filter="url(#OAM)"><rect x="664" y="883" width="87" height="127" fill="none"/><path d="M700,919 712,922 715,974 700,974Z" fill="#c6177d"/></g>
<g filter="url(#OAM)"><rect x="986" y="1038" width="120" height="87" fill="none"/><path d="M1022,1076 1070,1074 1070,1089 1025,1089Z" fill="#c6177d"/></g>
<g filter="url(#OAM)"><rect x="964" y="1198" width="107" height="102" fill="none"/><path d="M1000,1249 1030,1234 1035,1239 1005,1264Z" fill="#c6177d"/></g>
<g transform="rotate(80 1150 650)" filter="url(#TAM)"><rect x="430" y="1321" width="143" height="92" fill="none"/><path d="M454,1357 458,1345 504,1360 537,1372 548,1389 535,1384 497,1370 472,1367Z" fill="#c6177d"/></g>
<g transform="rotate(60 1150 650)" filter="url(#TAM)"><rect x="611" y="1011" width="76" height="64" fill="none"/><path d="M635,1046 647,1035 663,1042 655,1051Z" fill="#c6177d"/></g>
<g transform="rotate(60 1150 650)" filter="url(#TAM)"><rect x="685" y="1095" width="133" height="147" fill="none"/><path d="M722,1142 733,1119 760,1121 783,1142 795,1167 782,1183 755,1190 741,1164ZM709,1210 714,1166 747,1145 775,1155 789,1181 767,1209 733,1218Z" fill="#c6177d"/></g>
<g transform="rotate(60 1150 650)" filter="url(#TAM)"><rect x="1077" y="1135" width="159" height="133" fill="none"/><path d="M1101,1233 1109,1198 1147,1174 1201,1159 1212,1171 1181,1194 1202,1217 1199,1244 1170,1233 1132,1234Z" fill="#c6177d"/></g>
<g transform="rotate(-60 1150 650)" filter="url(#TAM)"><rect x="1246" y="32" width="82" height="105" fill="none"/><path d="M1289,56 1305,67 1303,100 1276,112 1271,89 1270,72Z" fill="#c6177d"/></g>
<g transform="rotate(-30 1150 650)" filter="url(#TAM)"><rect x="991" y="135" width="94" height="97" fill="none"/><path d="M1015,159 1042,163 1054,176 1061,198 1036,208 1027,198 1018,178Z" fill="#c6177d"/></g>
<g transform="rotate(-30 1150 650)" filter="url(#TAM)"><rect x="589" y="317" width="95" height="86" fill="none"/><path d="M618,341 643,349 659,370 660,379 632,377 613,361Z" fill="#c6177d"/></g>
<g filter="url(#TAM)"><rect x="466" y="756" width="83" height="86" fill="none"/><path d="M490,780 510,788 525,808 515,818 498,803Z" fill="#c6177d"/></g>
<g filter="url(#TAM)"><rect x="688" y="619" width="86" height="78" fill="none"/><path d="M712,648 745,643 750,668 725,673Z" fill="#c6177d"/></g>
<g filter="url(#TAM)"><rect x="784" y="672" width="88" height="100" fill="none"/><path d="M808,698 840,696 848,723 840,748 815,743Z" fill="#c6177d"/></g>
<g transform="rotate(30 1150 650)" filter="url(#TAM)"><rect x="578" y="916" width="318" height="297" fill="none"/><path d="M736,1164 775,1130 820,1109 863,1102 872,1119 751,1189ZM602,1022 624,969 694,940 758,961 778,1007 769,1070 763,1160 737,1175 678,1122 634,1076Z" fill="#c6177d"/></g>
<g transform="rotate(30 1150 650)" filter="url(#TAM)"><rect x="925" y="1175" width="162" height="73" fill="none"/><path d="M949,1201 976,1199 1006,1200 1046,1200 1062,1208 1045,1218 1018,1222 989,1221 962,1225Z" fill="#c6177d"/></g>
<g transform="rotate(20 1150 650)" filter="url(#TAM)"><rect x="878" y="864" width="94" height="88" fill="none"/><path d="M902,906 928,888 948,907 946,924 921,928Z" fill="#c6177d"/></g>
<g transform="rotate(20 1150 650)" filter="url(#TAM)"><rect x="1056" y="1189" width="143" height="67" fill="none"/><path d="M1080,1217 1099,1213 1143,1216 1172,1221 1175,1230 1149,1232 1121,1229 1088,1225Z" fill="#c6177d"/></g>
<g transform="rotate(50 1150 650)" filter="url(#TAM)"><rect x="885" y="1158" width="132" height="154" fill="none"/><path d="M909,1270 983,1182 978,1211 971,1243 993,1272 974,1286 946,1288 922,1278Z" fill="#c6177d"/></g>
<g transform="rotate(45 1150 650)" filter="url(#TAM)"><rect x="1125" y="1042" width="121" height="111" fill="none"/><path d="M1149,1092 1189,1066 1222,1099 1192,1129Z" fill="#c6177d"/></g>
<g filter="url(#HAM)"><rect x="382" y="396" width="130" height="70" fill="none"/><path d="M408,427 425,422 460,424 485,430 485,440 460,438 425,437 410,436Z" fill="#c6177d"/></g>
<g filter="url(#HAM)"><rect x="994" y="444" width="87" height="72" fill="none"/><path d="M1020,472 1035,470 1055,480 1052,490 1035,487 1022,482Z" fill="#c6177d"/></g>
<g filter="url(#HAM)"><rect x="819" y="462" width="77" height="58" fill="none"/><path d="M845,490 870,488 870,494 848,494Z" fill="#c6177d"/></g>
<g filter="url(#HAM)"><rect x="464" y="650" width="110" height="214" fill="none"/><path d="M495,688 510,676 535,680 538,698 525,708 505,706 492,698ZM490,736 505,738 510,748 500,756 492,748ZM510,767 548,764 548,772 510,773ZM508,823 535,820 532,833 515,838Z" fill="#c6177d"/></g>
<g filter="url(#HAM)"><rect x="942" y="484" width="77" height="67" fill="none"/><path d="M968,513 985,510 992,523 975,526Z" fill="#c6177d"/></g>
<g filter="url(#HAM)"><rect x="883" y="710" width="76" height="71" fill="none"/><path d="M909,739 920,736 932,740 930,750 918,754 910,748Z" fill="#c6177d"/></g>
<g filter="url(#HAM)"><rect x="886" y="820" width="90" height="80" fill="none"/><path d="M912,848 938,846 950,863 935,873 918,863Z" fill="#c6177d"/></g>
<g filter="url(#HAM)"><rect x="549" y="978" width="62" height="67" fill="none"/><path d="M575,1004 585,1006 585,1019 578,1016Z" fill="#c6177d"/></g>
<g filter="url(#HAM)"><rect x="616" y="840" width="94" height="74" fill="none"/><path d="M642,869 675,866 685,882 660,889 645,882Z" fill="#c6177d"/></g>
<g filter="url(#HAM)"><rect x="583" y="1089" width="78" height="82" fill="none"/><path d="M609,1118 635,1115 635,1124 610,1125ZM615,1136 635,1135 635,1144 618,1145Z" fill="#c6177d"/></g>
<g filter="url(#HAM)"><rect x="674" y="1069" width="106" height="71" fill="none"/><path d="M735,1104 754,1102 754,1114 738,1114ZM700,1095 725,1096 725,1104 700,1103Z" fill="#c6177d"/></g>
<g filter="url(#HAM)"><rect x="686" y="920" width="72" height="70" fill="none"/><path d="M712,946 725,952 732,964 722,964 712,954Z" fill="#c6177d"/></g>
<g filter="url(#HAM)"><rect x="966" y="926" width="122" height="82" fill="none"/><path d="M998,956 1020,952 1050,956 1062,964 1060,976 1025,972 1000,982 992,974Z" fill="#c6177d"/></g>
<g filter="url(#HAM)"><rect x="934" y="1040" width="93" height="153" fill="none"/><path d="M960,1160 985,1162 985,1166 960,1165ZM964,1066 1001,1070 997,1103 968,1098Z" fill="#c6177d"/></g>
<g transform="rotate(30 1150 650)" filter="url(#HAM)"><rect x="460" y="679" width="123" height="70" fill="none"/><path d="M486,710 501,706 529,705 557,712 557,723 534,722 503,720Z" fill="#c6177d"/></g>
<g transform="rotate(30 1150 650)" filter="url(#HAM)"><rect x="674" y="892" width="97" height="78" fill="none"/><path d="M700,931 716,918 741,921 745,939 725,945 708,940Z" fill="#c6177d"/></g>
<g transform="rotate(30 1150 650)" filter="url(#HAM)"><rect x="938" y="962" width="88" height="89" fill="none"/><path d="M965,1009 981,988 1001,1011 997,1025 974,1021ZM964,1013 978,1002 994,1010 984,1022Z" fill="#c6177d"/></g>
<g transform="rotate(30 1150 650)" filter="url(#HAM)"><rect x="930" y="1171" width="117" height="77" fill="none"/><path d="M956,1199 975,1197 993,1207 1014,1207 1022,1220 1001,1223 973,1213Z" fill="#c6177d"/></g>
<g transform="rotate(30 1150 650)" filter="url(#HAM)"><rect x="978" y="1009" width="133" height="115" fill="none"/><path d="M1004,1057 1027,1037 1061,1035 1079,1048 1085,1067 1075,1090 1051,1099 1028,1089 1009,1076Z" fill="#c6177d"/></g>
<g transform="rotate(-25 1150 650)" filter="url(#HAM)"><rect x="918" y="131" width="108" height="76" fill="none"/><path d="M972,161 988,157 1000,174 993,182 966,180 944,175 945,168Z" fill="#c6177d"/></g>
<g transform="rotate(-25 1150 650)" filter="url(#HAM)"><rect x="836" y="354" width="105" height="64" fill="none"/><path d="M862,381 890,380 914,386 915,392 891,389 864,389Z" fill="#c6177d"/></g>
<g transform="rotate(-30 1150 650)" filter="url(#HAM)"><rect x="669" y="351" width="94" height="72" fill="none"/><path d="M696,377 717,380 737,386 736,397 715,394 695,388Z" fill="#c6177d"/></g>
<g transform="rotate(-30 1150 650)" filter="url(#HAM)"><rect x="778" y="252" width="145" height="127" fill="none"/><path d="M845,278 870,284 891,308 897,328 876,345 848,352 819,353 804,350Z" fill="#c6177d"/></g>
<g transform="rotate(-30 1150 650)" filter="url(#HAM)"><rect x="506" y="835" width="83" height="78" fill="none"/><path d="M532,861 556,869 563,875 556,886 534,876Z" fill="#c6177d"/></g>
<g transform="rotate(60 1150 650)" filter="url(#HAM)"><rect x="900" y="966" width="141" height="100" fill="none"/><path d="M926,1023 932,1003 950,992 1015,1029 995,1040 970,1037 941,1038Z" fill="#c6177d"/></g>
<g transform="rotate(60 1150 650)" filter="url(#HAM)"><rect x="1113" y="1148" width="94" height="83" fill="none"/><path d="M1139,1192 1147,1174 1181,1190 1175,1204Z" fill="#c6177d"/></g>
<g transform="rotate(60 1150 650)" filter="url(#HAM)"><rect x="1317" y="812" width="80" height="77" fill="none"/><path d="M1343,859 1346,838 1370,846 1369,863Z" fill="#c6177d"/></g>
<g transform="rotate(60 1150 650)" filter="url(#HAM)"><rect x="1363" y="1239" width="76" height="71" fill="none"/><path d="M1389,1279 1406,1265 1413,1272 1403,1284Z" fill="#c6177d"/></g>
<g transform="rotate(25 1150 650)" filter="url(#HAM)"><rect x="648" y="976" width="152" height="78" fill="none"/><path d="M674,1019 693,1007 719,1003 746,1002 774,1003 772,1011 747,1015 716,1021 684,1028Z" fill="#c6177d"/></g>
<g transform="rotate(25 1150 650)" filter="url(#HAM)"><rect x="1107" y="1247" width="131" height="89" fill="none"/><path d="M1133,1288 1158,1282 1182,1274 1209,1273 1213,1287 1208,1306 1187,1310 1165,1298 1143,1298Z" fill="#c6177d"/></g>
<g transform="rotate(50 1150 650)" filter="url(#HAM)"><rect x="943" y="1096" width="112" height="108" fill="none"/><path d="M969,1151 977,1125 1005,1123 1028,1122 1022,1150 1027,1167 998,1178 979,1169Z" fill="#c6177d"/></g>
<g transform="rotate(50 1150 650)" filter="url(#HAM)"><rect x="972" y="1235" width="110" height="69" fill="none"/><path d="M998,1273 1010,1263 1038,1261 1056,1266 1048,1276 1027,1278 1007,1278Z" fill="#c6177d"/></g>
<g transform="rotate(-20 1150 650)" filter="url(#HAM)"><rect x="828" y="354" width="75" height="61" fill="none"/><path d="M854,381 876,380 878,389 856,389Z" fill="#c6177d"/></g>
<g transform="rotate(-20 1150 650)" filter="url(#HAM)"><rect x="834" y="705" width="98" height="71" fill="none"/><path d="M860,739 881,731 906,736 902,747 874,750 860,746Z" fill="#c6177d"/></g>
<g transform="rotate(10 1150 650)" filter="url(#HAM)"><rect x="785" y="529" width="90" height="79" fill="none"/><path d="M811,562 829,555 846,565 849,582 833,579 816,572Z" fill="#c6177d"/></g>
<g transform="rotate(45 1150 650)" filter="url(#HAM)"><rect x="1270" y="1042" width="79" height="71" fill="none"/><path d="M1296,1082 1307,1068 1323,1070 1319,1088Z" fill="#c6177d"/></g>
<g transform="rotate(45 1150 650)" filter="url(#HAM)"><rect x="1148" y="1240" width="105" height="86" fill="none"/><path d="M1174,1289 1206,1272 1225,1266 1227,1279 1201,1295 1181,1300Z" fill="#c6177d"/></g>
<g transform="rotate(20 1150 650)" filter="url(#HAM)"><rect x="886" y="1181" width="85" height="70" fill="none"/><path d="M912,1217 932,1207 945,1213 928,1225Z" fill="#c6177d"/></g>
<g transform="rotate(-45 1150 650)" filter="url(#HAM)"><rect x="724" y="880" width="65" height="57" fill="none"/><path d="M750,907 764,906 764,911 751,911Z" fill="#c6177d"/></g>
<g transform="rotate(15 1150 650)" filter="url(#HAM)"><rect x="1158" y="1229" width="104" height="65" fill="none"/><path d="M1184,1261 1198,1255 1219,1257 1236,1262 1235,1268 1212,1267 1189,1268Z" fill="#c6177d"/></g>
<g transform="rotate(60 1150 650)" filter="url(#DAM)"><rect x="522" y="1040" width="200" height="98" fill="none"/><path d="M548,1092 553,1073 575,1066 599,1069 618,1076 636,1075 655,1071 677,1073 696,1081 696,1095 675,1097 650,1100 631,1104 611,1107 589,1111 570,1109Z" fill="#c6177d"/></g>
<g transform="rotate(60 1150 650)" filter="url(#DAM)"><rect x="621" y="1115" width="117" height="115" fill="none"/><path d="M647,1185 650,1175 666,1167 672,1147 691,1147 665,1193ZM654,1189 654,1166 671,1141 685,1141 700,1155 700,1175 710,1184 712,1202 695,1204 681,1199 664,1198Z" fill="#c6177d"/></g>
<g transform="rotate(60 1150 650)" filter="url(#DAM)"><rect x="924" y="1039" width="174" height="156" fill="none"/><path d="M950,1112 956,1098 976,1087 998,1070 1018,1065 1040,1066 1059,1068 1071,1083 1072,1101 1070,1124 1051,1142 1033,1148 1014,1166 1004,1169 1016,1144 1014,1126 990,1123 969,1120Z" fill="#c6177d"/></g>
<g transform="rotate(60 1150 650)" filter="url(#DAM)"><rect x="1202" y="749" width="95" height="87" fill="none"/><path d="M1233,802 1228,781 1249,775 1270,787 1267,804 1252,810Z" fill="#c6177d"/></g>
<g transform="rotate(60 1150 650)" filter="url(#DAM)"><rect x="1321" y="1253" width="129" height="108" fill="none"/><path d="M1347,1312 1350,1291 1362,1281 1380,1279 1396,1283 1397,1295 1381,1309 1380,1325 1371,1335 1359,1331 1358,1318ZM1393,1301 1397,1289 1418,1284 1424,1293 1410,1302ZM1355,1288 1369,1279 1396,1283 1420,1285 1422,1298 1397,1301 1387,1307Z" fill="#c6177d"/></g>
<g transform="rotate(55 1150 650)" filter="url(#DAM)"><rect x="476" y="820" width="156" height="182" fill="none"/><path d="M502,959 508,939 512,902 514,886 522,870 545,855 563,846 577,853 579,867 590,887 601,906 606,929 590,939 579,946 563,960 544,970 527,977 510,974Z" fill="#c6177d"/></g>
<g transform="rotate(-55 1150 650)" filter="url(#DAM)"><rect x="1112" y="12" width="163" height="129" fill="none"/><path d="M1201,38 1219,46 1236,65 1234,85 1249,97 1224,115 1197,110 1174,108 1150,95 1138,79 1143,63 1163,61 1185,58Z" fill="#c6177d"/></g>
<g transform="rotate(-20 1150 650)" filter="url(#DAM)"><rect x="838" y="172" width="138" height="158" fill="none"/><path d="M886,199 902,198 922,202 935,217 950,228 950,235 930,231 911,233 899,236 895,253 901,274 902,293 893,303 882,289 876,270 870,250 864,223 865,205Z" fill="#c6177d"/></g>
<g transform="rotate(50 1150 650)" filter="url(#DAM)"><rect x="662" y="738" width="101" height="78" fill="none"/><path d="M688,784 693,769 714,764 736,766 737,776 720,785 702,790Z" fill="#c6177d"/></g>
<g transform="rotate(50 1150 650)" filter="url(#DAM)"><rect x="1023" y="1232" width="119" height="85" fill="none"/><path d="M1049,1274 1059,1266 1082,1266 1105,1258 1116,1264 1109,1281 1113,1291 1092,1290 1077,1287 1056,1289Z" fill="#c6177d"/></g>
<g transform="rotate(50 1150 650)" filter="url(#DAM)"><rect x="1178" y="1327" width="82" height="86" fill="none"/><path d="M1204,1377 1204,1361 1218,1353 1235,1361 1231,1377 1219,1387Z" fill="#c6177d"/></g>
<g transform="rotate(50 1150 650)" filter="url(#DAM)"><rect x="1196" y="1089" width="113" height="128" fill="none"/><path d="M1222,1154 1235,1146 1252,1150 1261,1161 1261,1181 1250,1191 1234,1187 1227,1171ZM1246,1141 1251,1127 1268,1115 1283,1120 1282,1136 1276,1148 1262,1149Z" fill="#c6177d"/></g>
<g transform="rotate(75 1150 650)" filter="url(#DAM)"><rect x="884" y="1001" width="85" height="96" fill="none"/><path d="M914,1071 910,1054 925,1030 943,1027 942,1050 935,1069Z" fill="#c6177d"/></g>
<g filter="url(#DAM)"><rect x="496" y="684" width="87" height="80" fill="none"/><path d="M522,716 535,710 550,713 558,723 545,738 532,736 525,726Z" fill="#c6177d"/></g>
<g filter="url(#DAM)"><rect x="719" y="993" width="72" height="72" fill="none"/><path d="M745,1024 755,1019 765,1034 758,1039 748,1034Z" fill="#c6177d"/></g>
<g filter="url(#DAM)"><rect x="944" y="1043" width="82" height="84" fill="none"/><path d="M970,1079 982,1069 998,1072 1000,1089 988,1102 975,1094Z" fill="#c6177d"/></g>
<g transform="rotate(70 1150 650)" filter="url(#DAM)"><rect x="1034" y="1019" width="193" height="134" fill="none"/><path d="M1079,1058 1078,1045 1201,1090 1187,1097 1148,1088 1127,1073ZM1060,1096 1089,1091 1120,1091 1151,1108 1147,1128Z" fill="#c6177d"/></g>
<g transform="rotate(20 1150 650)" filter="url(#DAM)"><rect x="632" y="984" width="136" height="90" fill="none"/><path d="M658,1029 671,1016 696,1010 710,1021 733,1023 741,1033 719,1044 694,1048 677,1038Z" fill="#c6177d"/></g>
<g transform="rotate(20 1150 650)" filter="url(#DAM)"><rect x="741" y="779" width="159" height="144" fill="none"/><path d="M767,825 782,808 794,820 792,837 808,828 823,820 844,818 866,805 874,812 859,831 849,845 859,860 855,878 835,880 825,897 808,895 806,874 792,858 771,844Z" fill="#c6177d"/></g>
<g transform="rotate(20 1150 650)" filter="url(#DAM)"><rect x="845" y="1165" width="109" height="73" fill="none"/><path d="M871,1206 884,1191 906,1193 925,1191 928,1198 905,1205 885,1208ZM873,1205 885,1193 907,1195 912,1201 896,1210 876,1212Z" fill="#c6177d"/></g>
<g transform="rotate(30 1150 650)" filter="url(#DAM)"><rect x="771" y="767" width="118" height="109" fill="none"/><path d="M805,807 823,793 842,797 863,798 851,812 836,826 828,842 809,850 798,840 797,823Z" fill="#c6177d"/></g>
<g transform="rotate(30 1150 650)" filter="url(#DAM)"><rect x="921" y="676" width="92" height="71" fill="none"/><path d="M947,713 963,705 986,702 984,712 971,719 954,720Z" fill="#c6177d"/></g>
<g transform="rotate(30 1150 650)" filter="url(#DAM)"><rect x="830" y="847" width="429" height="235" fill="none"/><path d="M856,962 877,947 903,946 906,962 927,973 932,993 936,1014 948,1030 947,1048 923,1056 893,1056 872,1039 868,1007 865,986ZM986,985 1013,963 1040,959 1060,965 1074,969 1101,965 1110,981 1015,1036 1001,1022 1000,1000ZM989,990 1084,935 1113,936 1154,906 1192,873 1210,874 1205,906 1200,926 1181,954 1168,982 1145,992 1116,992 1092,1000 1065,1004 1041,1012 1015,1016 994,1010ZM1181,982 1219,954 1233,978 1196,1000Z" fill="#c6177d"/></g>
<g transform="rotate(30 1150 650)" filter="url(#DAM)"><rect x="1076" y="841" width="165" height="154" fill="none"/><path d="M1102,918 1114,888 1141,884 1167,880 1200,867 1210,873 1215,893 1187,915 1175,944 1132,969 1112,959 1117,932Z" fill="#c6177d"/></g>
<g transform="rotate(-30 1150 650)" filter="url(#DAM)"><rect x="860" y="617" width="112" height="74" fill="none"/><path d="M890,651 906,643 931,649 946,658 939,665 918,661 900,662 886,657Z" fill="#c6177d"/></g>
<g transform="rotate(45 1150 650)" filter="url(#DAM)"><rect x="1222" y="996" width="133" height="117" fill="none"/><path d="M1248,1066 1264,1047 1284,1045 1287,1035 1305,1031 1330,1028 1326,1038 1312,1052 1305,1066 1308,1077 1298,1081 1280,1077 1266,1084 1259,1088 1257,1075ZM1255,1059 1279,1029 1319,1022 1325,1049 1295,1072Z" fill="#c6177d"/></g>
<g transform="rotate(45 1150 650)" filter="url(#DAM)"><rect x="1143" y="1100" width="135" height="105" fill="none"/><path d="M1169,1159 1192,1129 1235,1126 1252,1156 1222,1179 1189,1179Z" fill="#c6177d"/></g>
<g transform="rotate(60 1150 650)" filter="url(#FAM)"><rect x="655" y="834" width="192" height="216" fill="none"/><path d="M680,1014 683,992 703,969 687,937 685,919 707,902 715,878 720,859 742,871 738,897 733,917 744,938 768,926 793,912 807,909 823,918 761,1026 731,1020 713,1021Z" fill="#c6177d"/></g>
<g transform="rotate(30 1150 650)" filter="url(#FAM)"><rect x="622" y="650" width="117" height="121" fill="none"/><path d="M646,678 662,674 684,679 701,687 692,697 714,705 714,730 686,746Z" fill="#c6177d"/></g>
<g filter="url(#SAM)"><rect x="613" y="63" width="85" height="80" fill="none"/><path d="M645,88 668,83 669,94 658,103 670,112 678,117 675,122 635,120 634,110 640,97Z" fill="#c6177d"/></g>
<g filter="url(#SAM)"><rect x="356" y="300" width="68" height="52" fill="none"/><path d="M376,321 390,322 404,332 395,331 385,326Z" fill="#c6177d"/></g>
<g filter="url(#SAM)"><rect x="606" y="186" width="55" height="58" fill="none"/><path d="M626,208 639,207 640,217 635,224 630,218Z" fill="#c6177d"/></g>
<g filter="url(#SAM)"><rect x="955" y="140" width="163" height="206" fill="none"/><path d="M1095,160 1097,162 1065,200 1045,231 1015,266 1000,288 977,326 975,324 998,287 1013,264 1042,230 1062,198Z" fill="#c6177d"/></g>
<g filter="url(#SAM)"><rect x="1027" y="418" width="52" height="46" fill="none"/><path d="M1048,438 1059,439 1056,443 1049,442Z" fill="#c6177d"/></g>
<g filter="url(#SAM)"><rect x="487" y="782" width="54" height="48" fill="none"/><path d="M508,803 520,804 520,810 508,810Z" fill="#c6177d"/></g>
<g filter="url(#SAM)"><rect x="750" y="560" width="67" height="56" fill="none"/><path d="M770,584 790,580 796,590 780,596 771,593Z" fill="#c6177d"/></g>
<g filter="url(#SAM)"><rect x="827" y="610" width="48" height="46" fill="none"/><path d="M848,630 854,630 854,636 848,636Z" fill="#c6177d"/></g>
<g filter="url(#SAM)"><rect x="877" y="530" width="91" height="87" fill="none"/><path d="M898,553 908,550 922,556 928,564 915,566 902,560ZM925,588 940,584 948,593 932,597Z" fill="#c6177d"/></g>
<g filter="url(#SAM)"><rect x="1017" y="514" width="61" height="47" fill="none"/><path d="M1038,534 1055,534 1058,539 1042,540Z" fill="#c6177d"/></g>
<g filter="url(#SAM)"><rect x="1057" y="547" width="55" height="46" fill="none"/><path d="M1078,568 1091,568 1091,572 1078,571Z" fill="#c6177d"/></g>
<g filter="url(#SAM)"><rect x="1011" y="602" width="56" height="54" fill="none"/><path d="M1031,627 1040,623 1046,629 1038,636 1032,633Z" fill="#c6177d"/></g>
<g filter="url(#SAM)"><rect x="900" y="627" width="77" height="54" fill="none"/><path d="M920,650 935,648 945,653 940,660 925,659ZM951,656 956,656 956,660 951,660Z" fill="#c6177d"/></g>
<g filter="url(#SAM)"><rect x="913" y="772" width="110" height="49" fill="none"/><path d="M934,792 950,794 950,799 935,798ZM990,796 1002,797 1002,800 990,799Z" fill="#c6177d"/></g>
<g filter="url(#SAM)"><rect x="698" y="930" width="76" height="127" fill="none"/><path d="M719,952 730,950 732,963 722,962ZM720,1014 730,1016 732,1029 722,1026ZM745,1019 754,1016 754,1036 748,1034ZM719,1014 728,1012 732,1026 724,1029Z" fill="#c6177d"/></g>
<g filter="url(#SAM)"><rect x="606" y="1054" width="46" height="46" fill="none"/><path d="M626,1074 631,1074 631,1079 626,1079Z" fill="#c6177d"/></g>
<g filter="url(#SAM)"><rect x="663" y="1076" width="54" height="58" fill="none"/><path d="M684,1098 692,1096 696,1112 688,1114Z" fill="#c6177d"/></g>
<g filter="url(#SAM)"><rect x="876" y="1167" width="57" height="52" fill="none"/><path d="M896,1188 910,1189 912,1198 900,1199Z" fill="#c6177d"/></g></g>
<g clip-path="url(#clipB)"><g transform="rotate(55 1860 650)" filter="url(#OBP)"><rect x="1467" y="757" width="110" height="101" fill="none"/><path d="M1503,815 1524,793 1540,805 1522,822Z" fill="#eaa6cb"/></g>
<g transform="rotate(55 1860 650)" filter="url(#OBP)"><rect x="1447" y="152" width="159" height="152" fill="none"/><path d="M1483,225 1509,188 1570,231 1544,268Z" fill="#eaa6cb"/></g>
<g transform="rotate(55 1860 650)" filter="url(#OBP)"><rect x="1584" y="317" width="106" height="112" fill="none"/><path d="M1620,369 1631,353 1654,369 1636,393Z" fill="#eaa6cb"/></g>
<g transform="rotate(55 1860 650)" filter="url(#OBP)"><rect x="1798" y="182" width="103" height="101" fill="none"/><path d="M1834,233 1844,218 1865,233 1855,247Z" fill="#eaa6cb"/></g>
<g transform="rotate(55 1860 650)" filter="url(#OBP)"><rect x="2019" y="1034" width="158" height="96" fill="none"/><path d="M2055,1085 2068,1070 2117,1074 2141,1084 2135,1093 2103,1095 2072,1095Z" fill="#eaa6cb"/></g>
<g transform="rotate(55 1860 650)" filter="url(#OBK)"><rect x="1910" y="238" width="117" height="120" fill="none"/><path d="M1946,305 1962,274 1991,294 1978,321Z" fill="#a6dc6a"/></g>
<g transform="rotate(-50 1860 650)" filter="url(#TBP)"><rect x="2154" y="738" width="102" height="94" fill="none"/><path d="M2198,768 2219,762 2230,786 2232,801 2212,808 2188,809 2178,797Z" fill="#eaa6cb"/></g>
<g transform="rotate(-60 1860 650)" filter="url(#TBP)"><rect x="2113" y="802" width="122" height="85" fill="none"/><path d="M2189,826 2211,854 2199,864 2169,861 2137,856 2139,849 2168,850Z" fill="#eaa6cb"/></g>
<g transform="rotate(70 1860 650)" filter="url(#TBP)"><rect x="2165" y="366" width="97" height="60" fill="none"/><path d="M2189,398 2196,393 2219,390 2238,392 2235,401 2214,402Z" fill="#eaa6cb"/></g>
<g transform="rotate(-60 1860 650)" filter="url(#HBK)"><rect x="2116" y="97" width="95" height="97" fill="none"/><path d="M2142,123 2181,124 2185,168 2165,168 2150,142Z" fill="#a6dc6a"/></g>
<g transform="rotate(55 1860 650)" filter="url(#HBP)"><rect x="1322" y="612" width="69" height="69" fill="none"/><path d="M1348,652 1355,638 1365,645 1358,656Z" fill="#eaa6cb"/></g>
<g transform="rotate(55 1860 650)" filter="url(#HBP)"><rect x="1433" y="443" width="64" height="64" fill="none"/><path d="M1459,479 1465,469 1471,477 1468,481Z" fill="#eaa6cb"/></g>
<g transform="rotate(55 1860 650)" filter="url(#HBP)"><rect x="2003" y="470" width="74" height="70" fill="none"/><path d="M2029,510 2036,496 2051,500 2044,514Z" fill="#eaa6cb"/></g>
<g transform="rotate(55 1860 650)" filter="url(#HBP)"><rect x="2165" y="392" width="69" height="66" fill="none"/><path d="M2191,422 2194,418 2208,429 2205,432Z" fill="#eaa6cb"/></g>
<g transform="rotate(50 1860 650)" filter="url(#HBK)"><rect x="1984" y="545" width="91" height="66" fill="none"/><path d="M2010,581 2020,573 2045,571 2049,577 2026,585Z" fill="#a6dc6a"/></g>
<g transform="rotate(55 1860 650)" filter="url(#HBK)"><rect x="2048" y="486" width="73" height="74" fill="none"/><path d="M2074,529 2084,512 2094,519 2085,534Z" fill="#a6dc6a"/></g>
<g transform="rotate(40 1860 650)" filter="url(#HBK)"><rect x="2130" y="490" width="176" height="125" fill="none"/><path d="M2156,549 2165,535 2187,546 2210,543 2222,526 2243,516 2262,539 2275,566 2281,588 2267,580 2236,567 2212,561 2190,566Z" fill="#a6dc6a"/></g>
<g transform="rotate(45 1860 650)" filter="url(#HBK)"><rect x="2212" y="579" width="80" height="81" fill="none"/><path d="M2238,622 2249,605 2267,608 2266,622 2254,634Z" fill="#a6dc6a"/></g>
<g transform="rotate(60 1860 650)" filter="url(#HBK)"><rect x="2194" y="413" width="171" height="140" fill="none"/><path d="M2221,527 2220,504 2227,473 2229,439 2255,443 2320,481 2340,497 2321,510 2294,517 2269,509 2255,524Z" fill="#a6dc6a"/></g>
<g transform="rotate(80 1860 650)" filter="url(#HBP)"><rect x="2121" y="310" width="110" height="66" fill="none"/><path d="M2147,342 2150,336 2178,336 2205,343 2201,350 2177,343Z" fill="#eaa6cb"/></g>
<g transform="rotate(55 1860 650)" filter="url(#DBP)"><rect x="2110" y="452" width="68" height="79" fill="none"/><path d="M2139,506 2136,490 2146,478 2152,486 2148,501Z" fill="#eaa6cb"/></g>
<g transform="rotate(55 1860 650)" filter="url(#OBG)"><rect x="1591" y="812" width="152" height="135" fill="none"/><path d="M1627,893 1664,848 1706,866 1693,911 1650,912Z" fill="#4b9120"/></g>
<g transform="rotate(55 1860 650)" filter="url(#OBG)"><rect x="1972" y="699" width="143" height="139" fill="none"/><path d="M2008,784 2042,735 2079,761 2050,802Z" fill="#4b9120"/></g>
<g transform="rotate(55 1860 650)" filter="url(#OBG)"><rect x="1988" y="1151" width="230" height="229" fill="none"/><path d="M2024,1259 2068,1205 2130,1187 2170,1209 2182,1260 2182,1290 2145,1344Z" fill="#4b9120"/></g>
<g transform="rotate(50 1860 650)" filter="url(#TBG)"><rect x="1261" y="552" width="185" height="131" fill="none"/><path d="M1285,611 1305,583 1344,576 1391,590 1416,591 1422,615 1403,645 1372,659 1340,658Z" fill="#4b9120"/></g>
<g transform="rotate(50 1860 650)" filter="url(#TBG)"><rect x="1458" y="691" width="459" height="294" fill="none"/><path d="M1482,780 1506,764 1540,754 1569,765 1527,815ZM1485,783 1528,731 1558,742 1586,779 1607,816 1598,835 1568,839 1525,813ZM1611,807 1688,715 1894,874 1795,961Z" fill="#4b9120"/></g>
<g transform="rotate(50 1860 650)" filter="url(#TBG)"><rect x="1808" y="997" width="176" height="106" fill="none"/><path d="M1832,1071 1855,1044 1900,1029 1952,1021 1960,1034 1926,1052 1889,1066 1858,1079Z" fill="#4b9120"/></g>
<g transform="rotate(50 1860 650)" filter="url(#TBG)"><rect x="2147" y="1056" width="129" height="75" fill="none"/><path d="M2171,1094 2209,1080 2252,1083 2250,1094 2215,1104 2187,1107Z" fill="#4b9120"/></g>
<g transform="rotate(15 1860 650)" filter="url(#TBG)"><rect x="1578" y="83" width="235" height="158" fill="none"/><path d="M1681,136 1702,120 1770,107 1788,174 1749,195 1737,209 1700,208 1651,216 1602,217 1603,211 1645,197 1663,166Z" fill="#4b9120"/></g>
<g transform="rotate(55 1860 650)" filter="url(#TBG)"><rect x="1473" y="474" width="113" height="120" fill="none"/><path d="M1497,548 1529,498 1562,521 1528,570Z" fill="#4b9120"/></g>
<g transform="rotate(55 1860 650)" filter="url(#TBG)"><rect x="1665" y="913" width="186" height="125" fill="none"/><path d="M1689,952 1710,948 1748,938 1773,937 1783,956 1768,970 1771,991 1801,993 1824,985 1827,999 1800,1011 1774,1014 1720,977Z" fill="#4b9120"/></g>
<g transform="rotate(55 1860 650)" filter="url(#TBG)"><rect x="2048" y="365" width="84" height="77" fill="none"/><path d="M2072,405 2083,389 2108,406 2099,418Z" fill="#4b9120"/></g>
<g transform="rotate(55 1860 650)" filter="url(#TBG)"><rect x="1980" y="704" width="172" height="147" fill="none"/><path d="M2004,773 2035,728 2097,777 2068,818ZM2013,818 2074,734 2128,772 2112,802 2068,814 2034,827ZM2042,781 2093,743 2127,773 2109,798 2077,800Z" fill="#4b9120"/></g>
<g transform="rotate(55 1860 650)" filter="url(#TBG)"><rect x="2030" y="1214" width="123" height="105" fill="none"/><path d="M2054,1268 2082,1238 2127,1252 2129,1284 2097,1295Z" fill="#4b9120"/></g>
<g transform="rotate(55 1860 650)" filter="url(#TBG)"><rect x="2320" y="546" width="81" height="74" fill="none"/><path d="M2344,589 2360,570 2376,582 2363,597Z" fill="#4b9120"/></g>
<g transform="rotate(55 1860 650)" filter="url(#TBG)"><rect x="2388" y="567" width="108" height="150" fill="none"/><path d="M2412,619 2425,591 2453,629 2471,673 2457,693 2440,675Z" fill="#4b9120"/></g>
<g transform="rotate(40 1860 650)" filter="url(#TBG)"><rect x="1460" y="585" width="154" height="110" fill="none"/><path d="M1484,661 1530,630 1578,609 1590,624 1549,653 1519,671Z" fill="#4b9120"/></g>
<g transform="rotate(40 1860 650)" filter="url(#TBG)"><rect x="1962" y="329" width="149" height="85" fill="none"/><path d="M1986,369 2012,353 2046,355 2087,365 2082,383 2039,386 2003,390Z" fill="#4b9120"/></g>
<g transform="rotate(40 1860 650)" filter="url(#TBG)"><rect x="2032" y="624" width="136" height="69" fill="none"/><path d="M2056,663 2084,649 2116,648 2144,651 2139,661 2104,665 2068,669Z" fill="#4b9120"/></g>
<g transform="rotate(40 1860 650)" filter="url(#TBG)"><rect x="2113" y="920" width="172" height="189" fill="none"/><path d="M2137,965 2177,944 2209,982 2191,991 2160,984ZM2149,1033 2179,1014 2225,1001 2261,1044 2242,1066 2219,1085 2187,1079 2179,1053Z" fill="#4b9120"/></g>
<g transform="rotate(20 1860 650)" filter="url(#TBG)"><rect x="1630" y="62" width="180" height="183" fill="none"/><path d="M1654,137 1680,119 1723,106 1763,86 1786,89 1778,113 1760,135 1743,163 1736,186 1707,208 1701,221 1685,221Z" fill="#4b9120"/></g>
<g transform="rotate(20 1860 650)" filter="url(#TBG)"><rect x="2033" y="909" width="193" height="88" fill="none"/><path d="M2057,966 2086,958 2134,943 2183,933 2202,940 2166,958 2115,966 2065,973Z" fill="#4b9120"/></g>
<g transform="rotate(30 1860 650)" filter="url(#TBG)"><rect x="1789" y="610" width="173" height="133" fill="none"/><path d="M1813,709 1837,690 1880,665 1913,634 1938,678 1911,688 1880,694 1849,712 1825,720Z" fill="#4b9120"/></g>
<g transform="rotate(30 1860 650)" filter="url(#TBG)"><rect x="1682" y="1154" width="175" height="114" fill="none"/><path d="M1706,1188 1743,1178 1789,1187 1823,1196 1833,1219 1803,1230 1772,1237 1738,1244Z" fill="#4b9120"/></g>
<g transform="rotate(70 1860 650)" filter="url(#TBG)"><rect x="1899" y="1044" width="104" height="98" fill="none"/><path d="M1923,1099 1940,1068 1968,1078 1979,1103 1974,1117Z" fill="#4b9120"/></g>
<g transform="rotate(70 1860 650)" filter="url(#TBG)"><rect x="2236" y="809" width="109" height="86" fill="none"/><path d="M2260,849 2261,833 2286,837 2306,855 2321,871 2300,871 2278,858Z" fill="#4b9120"/></g>
<g transform="rotate(60 1860 650)" filter="url(#TBG)"><rect x="2112" y="1187" width="85" height="79" fill="none"/><path d="M2136,1231 2152,1211 2172,1217 2167,1237 2146,1242Z" fill="#4b9120"/></g>
<g transform="rotate(60 1860 650)" filter="url(#TBG)"><rect x="1991" y="303" width="153" height="156" fill="none"/><path d="M2015,420 2058,327 2120,362 2077,435Z" fill="#4b9120"/></g>
<g filter="url(#TBG)"><rect x="1711" y="1204" width="78" height="54" fill="none"/><path d="M1735,1229 1762,1228 1765,1233 1738,1234Z" fill="#4b9120"/></g>
<g transform="rotate(35 1860 650)" filter="url(#TBG)"><rect x="2064" y="977" width="213" height="108" fill="none"/><path d="M2088,1008 2115,1001 2161,1006 2212,1019 2253,1033 2253,1051 2230,1061 2195,1055 2157,1045 2125,1043 2111,1040Z" fill="#4b9120"/></g>
<g transform="rotate(55 1860 650)" filter="url(#HBG)"><rect x="1175" y="556" width="82" height="76" fill="none"/><path d="M1201,601 1214,582 1231,597 1218,607Z" fill="#4b9120"/></g>
<g transform="rotate(55 1860 650)" filter="url(#HBG)"><rect x="1436" y="503" width="72" height="76" fill="none"/><path d="M1462,542 1465,529 1482,544 1479,553Z" fill="#4b9120"/></g>
<g transform="rotate(55 1860 650)" filter="url(#HBG)"><rect x="1455" y="590" width="71" height="70" fill="none"/><path d="M1481,632 1497,616 1501,620 1487,634Z" fill="#4b9120"/></g>
<g transform="rotate(55 1860 650)" filter="url(#HBG)"><rect x="1495" y="475" width="72" height="75" fill="none"/><path d="M1521,519 1530,501 1540,509 1532,524Z" fill="#4b9120"/></g>
<g transform="rotate(55 1860 650)" filter="url(#HBG)"><rect x="1588" y="868" width="75" height="70" fill="none"/><path d="M1614,898 1618,894 1637,909 1633,912Z" fill="#4b9120"/></g>
<g transform="rotate(55 1860 650)" filter="url(#HBG)"><rect x="1858" y="691" width="64" height="69" fill="none"/><path d="M1884,734 1887,717 1896,721 1891,733Z" fill="#4b9120"/></g>
<g transform="rotate(55 1860 650)" filter="url(#HBG)"><rect x="1924" y="691" width="176" height="132" fill="none"/><path d="M1950,780 1963,753 1986,763 1991,791 1974,797ZM2028,759 2047,742 2051,748 2038,763ZM1985,721 1989,717 1996,722 1993,726ZM2050,774 2055,762 2074,778 2068,783ZM2050,774 2055,763 2064,771 2059,778Z" fill="#4b9120"/></g>
<g transform="rotate(55 1860 650)" filter="url(#HBG)"><rect x="2026" y="738" width="67" height="70" fill="none"/><path d="M2052,778 2057,764 2066,770 2065,781Z" fill="#4b9120"/></g>
<g transform="rotate(55 1860 650)" filter="url(#HBG)"><rect x="2263" y="923" width="96" height="105" fill="none"/><path d="M2289,999 2298,981 2321,967 2332,972 2317,989 2302,1002ZM2291,974 2304,964 2325,970 2326,980 2316,991ZM2316,957 2324,949 2333,958 2328,963Z" fill="#4b9120"/></g>
<g transform="rotate(-60 1860 650)" filter="url(#HBG)"><rect x="2093" y="139" width="190" height="105" fill="none"/><path d="M2215,168 2245,185 2257,207 2226,213 2197,218 2173,215 2145,208 2124,197 2119,183 2134,169 2163,169 2190,165Z" fill="#4b9120"/></g>
<g transform="rotate(70 1860 650)" filter="url(#HBG)"><rect x="1257" y="706" width="110" height="87" fill="none"/><path d="M1283,765 1287,739 1311,732 1341,738 1340,753 1319,767Z" fill="#4b9120"/></g>
<g transform="rotate(70 1860 650)" filter="url(#HBG)"><rect x="1638" y="359" width="280" height="313" fill="none"/><path d="M1664,598 1734,405 1759,409 1781,422 1808,421 1813,402 1839,395 1853,385 1880,400 1890,414 1873,434 1888,451 1892,468 1870,486 1850,495 1862,521 1846,536 1819,537 1830,552 1843,573 1851,597 1831,606 1814,626 1796,646Z" fill="#4b9120"/></g>
<g transform="rotate(70 1860 650)" filter="url(#HBG)"><rect x="1904" y="315" width="85" height="81" fill="none"/><path d="M1930,370 1938,341 1963,361 1957,369Z" fill="#4b9120"/></g>
<g transform="rotate(70 1860 650)" filter="url(#HBG)"><rect x="1991" y="304" width="81" height="67" fill="none"/><path d="M2017,343 2025,330 2047,335 2043,345Z" fill="#4b9120"/></g>
<g transform="rotate(70 1860 650)" filter="url(#HBG)"><rect x="2226" y="378" width="208" height="149" fill="none"/><path d="M2265,474 2252,432 2291,404 2357,428 2408,470 2388,500 2326,487Z" fill="#4b9120"/></g>
<g transform="rotate(60 1860 650)" filter="url(#HBG)"><rect x="1276" y="459" width="94" height="84" fill="none"/><path d="M1304,517 1302,495 1314,485 1344,493 1340,505 1318,513Z" fill="#4b9120"/></g>
<g transform="rotate(60 1860 650)" filter="url(#HBG)"><rect x="1780" y="806" width="137" height="113" fill="none"/><path d="M1806,859 1807,839 1831,836 1858,839 1885,832 1892,841 1877,856 1859,869 1875,890 1862,893 1831,876Z" fill="#4b9120"/></g>
<g transform="rotate(60 1860 650)" filter="url(#HBG)"><rect x="1988" y="345" width="211" height="269" fill="none"/><path d="M2038,427 2035,402 2058,404 2073,407 2061,423 2047,432ZM2014,563 2033,512 2075,475 2094,424 2135,371 2173,393 2152,458 2120,512 2125,565 2076,588Z" fill="#4b9120"/></g>
<g transform="rotate(60 1860 650)" filter="url(#HBG)"><rect x="1986" y="445" width="69" height="75" fill="none"/><path d="M2023,494 2012,473 2019,471 2029,488Z" fill="#4b9120"/></g>
<g transform="rotate(60 1860 650)" filter="url(#HBG)"><rect x="2148" y="443" width="129" height="133" fill="none"/><path d="M2180,521 2199,509 2228,508 2250,509 2237,531 2205,529ZM2174,534 2211,469 2233,482 2247,507 2248,525 2251,550 2222,551 2203,534Z" fill="#4b9120"/></g>
<g transform="rotate(-55 1860 650)" filter="url(#HBG)"><rect x="2018" y="203" width="145" height="94" fill="none"/><path d="M2107,239 2120,248 2136,255 2128,270 2102,267 2081,263 2062,271 2044,271 2053,258 2063,246 2050,236 2051,229 2079,234Z" fill="#4b9120"/></g>
<g transform="rotate(12 1860 650)" filter="url(#HBG)"><rect x="1596" y="171" width="193" height="66" fill="none"/><path d="M1624,201 1673,204 1723,198 1764,197 1763,204 1720,206 1670,211 1622,205Z" fill="#4b9120"/></g>
<g transform="rotate(65 1860 650)" filter="url(#HBG)"><rect x="1474" y="415" width="300" height="175" fill="none"/><path d="M1500,493 1504,473 1519,463 1540,441 1617,477 1600,490 1576,495 1549,505 1522,504ZM1536,521 1549,505 1576,495 1600,490 1617,477 1748,538 1736,564 1705,561 1674,558 1638,552 1608,544 1579,536 1552,534Z" fill="#4b9120"/></g>
<g transform="rotate(-50 1860 650)" filter="url(#HBG)"><rect x="1876" y="290" width="167" height="140" fill="none"/><path d="M2001,316 2017,323 2005,352 2003,380 1992,383 1983,364 1966,359 1971,342 1950,340 1925,341 1919,330 1930,324 1947,329 1972,328 1987,322ZM1924,348 1948,361 1968,377 1985,382 1990,404 1966,398 1941,392 1923,401 1902,400 1904,378 1912,365Z" fill="#4b9120"/></g>
<g transform="rotate(45 1860 650)" filter="url(#HBG)"><rect x="1563" y="533" width="200" height="172" fill="none"/><path d="M1589,648 1610,634 1621,609 1646,598 1670,588 1681,563 1713,559 1737,562 1620,679Z" fill="#4b9120"/></g>
<g transform="rotate(45 1860 650)" filter="url(#HBG)"><rect x="1709" y="983" width="186" height="122" fill="none"/><path d="M1735,1020 1753,1009 1784,1013 1820,1013 1848,1013 1868,1019 1808,1079 1767,1059 1742,1034Z" fill="#4b9120"/></g>
<g transform="rotate(45 1860 650)" filter="url(#HBG)"><rect x="1797" y="898" width="179" height="84" fill="none"/><path d="M1823,931 1852,924 1890,928 1922,931 1950,938 1932,955 1897,956 1859,953 1830,946Z" fill="#4b9120"/></g>
<g transform="rotate(45 1860 650)" filter="url(#HBG)"><rect x="1778" y="1104" width="238" height="112" fill="none"/><path d="M1804,1164 1815,1150 1842,1148 1863,1134 1895,1130 1930,1130 1962,1134 1990,1155 1987,1165 1958,1173 1930,1173 1905,1176 1877,1183 1849,1190 1826,1185Z" fill="#4b9120"/></g>
<g transform="rotate(45 1860 650)" filter="url(#HBG)"><rect x="2141" y="1055" width="123" height="84" fill="none"/><path d="M2167,1105 2185,1095 2206,1088 2227,1081 2238,1088 2223,1105 2209,1112 2188,1112Z" fill="#4b9120"/></g>
<g transform="rotate(20 1860 650)" filter="url(#HBG)"><rect x="1630" y="101" width="137" height="132" fill="none"/><path d="M1656,141 1677,128 1730,127 1741,142 1734,182 1710,201 1680,207Z" fill="#4b9120"/></g>
<g transform="rotate(20 1860 650)" filter="url(#HBG)"><rect x="1609" y="1164" width="151" height="85" fill="none"/><path d="M1635,1210 1658,1207 1691,1208 1724,1198 1732,1190 1734,1203 1704,1216 1668,1219 1640,1224Z" fill="#4b9120"/></g>
<g transform="rotate(20 1860 650)" filter="url(#HBG)"><rect x="1983" y="1076" width="76" height="59" fill="none"/><path d="M2009,1104 2019,1102 2033,1105 2024,1109Z" fill="#4b9120"/></g>
<g transform="rotate(50 1860 650)" filter="url(#HBG)"><rect x="1525" y="563" width="192" height="171" fill="none"/><path d="M1551,704 1647,589 1677,608 1691,639 1673,676 1646,699 1611,702 1580,709Z" fill="#4b9120"/></g>
<g transform="rotate(50 1860 650)" filter="url(#HBG)"><rect x="1730" y="866" width="420" height="312" fill="none"/><path d="M1756,915 1771,901 1791,892 1816,894 1824,907 1804,916 1783,925 1764,925ZM1805,1048 1934,895 1953,911 1977,937 2008,970 2006,988 1975,994 1946,997 1912,1007 1874,1021 1843,1034ZM1988,947 2007,924 2039,918 2074,914 2107,922 2105,940 2081,953 2050,959 2018,966ZM1969,1009 1975,994 1996,992 2014,994 2015,1008 2017,1030 2018,1044 2004,1045 1995,1024ZM1943,1072 2024,983 2124,1067 2039,1153Z" fill="#4b9120"/></g>
<g transform="rotate(50 1860 650)" filter="url(#HBG)"><rect x="2139" y="602" width="101" height="91" fill="none"/><path d="M2165,649 2186,640 2202,628 2214,644 2194,667Z" fill="#4b9120"/></g>
<g transform="rotate(35 1860 650)" filter="url(#HBG)"><rect x="1592" y="652" width="108" height="62" fill="none"/><path d="M1618,683 1638,681 1672,678 1673,684 1640,689 1621,688Z" fill="#4b9120"/></g>
<g transform="rotate(15 1860 650)" filter="url(#HBG)"><rect x="1895" y="815" width="77" height="66" fill="none"/><path d="M1921,849 1932,841 1947,847 1936,855Z" fill="#4b9120"/></g>
<g transform="rotate(-40 1860 650)" filter="url(#HBG)"><rect x="1796" y="592" width="115" height="169" fill="none"/><path d="M1864,618 1885,655 1881,698 1863,735 1838,726 1827,685 1822,668Z" fill="#4b9120"/></g>
<g transform="rotate(-40 1860 650)" filter="url(#HBG)"><rect x="1671" y="860" width="76" height="58" fill="none"/><path d="M1697,887 1720,886 1721,891 1699,892Z" fill="#4b9120"/></g>
<g transform="rotate(40 1860 650)" filter="url(#HBG)"><rect x="2093" y="467" width="167" height="114" fill="none"/><path d="M2119,547 2138,535 2158,528 2184,519 2201,501 2223,493 2235,506 2212,522 2193,538 2171,543 2145,551 2126,555Z" fill="#4b9120"/></g>
<g transform="rotate(40 1860 650)" filter="url(#HBG)"><rect x="2129" y="976" width="165" height="83" fill="none"/><path d="M2193,1009 2201,1002 2227,1003 2232,1009 2211,1014ZM2155,1021 2176,1016 2208,1016 2244,1019 2268,1024 2266,1033 2235,1032 2200,1029 2163,1028Z" fill="#4b9120"/></g>
<g transform="rotate(40 1860 650)" filter="url(#HBG)"><rect x="2223" y="779" width="108" height="97" fill="none"/><path d="M2249,831 2253,812 2273,805 2294,814 2306,836 2298,849 2273,844Z" fill="#4b9120"/></g>
<g transform="rotate(40 1860 650)" filter="url(#HBG)"><rect x="2246" y="939" width="90" height="64" fill="none"/><path d="M2272,970 2277,965 2310,969 2309,976 2292,975Z" fill="#4b9120"/></g>
<g transform="rotate(75 1860 650)" filter="url(#HBG)"><rect x="1937" y="1049" width="134" height="86" fill="none"/><path d="M1963,1094 1968,1075 2005,1090 2044,1098 2036,1109 2001,1105Z" fill="#4b9120"/></g>
<g transform="rotate(52 1860 650)" filter="url(#HBG)"><rect x="1997" y="919" width="275" height="179" fill="none"/><path d="M2023,1000 2035,977 2068,959 2095,948 2123,945 2149,952 2159,972 2151,991 2164,1014 2193,1018 2221,1015 2246,1015 2245,1033 2218,1044 2186,1051 2155,1058 2128,1069 2107,1071 2104,1050 2128,1037 2129,1019 2100,1015 2071,1012 2046,1011Z" fill="#4b9120"/></g>
<g transform="rotate(30 1860 650)" filter="url(#HBG)"><rect x="2014" y="951" width="136" height="79" fill="none"/><path d="M2040,992 2061,978 2090,978 2111,977 2124,999 2105,1004 2076,1004 2051,1001Z" fill="#4b9120"/></g>
<g transform="rotate(30 1860 650)" filter="url(#HBG)"><rect x="2186" y="905" width="118" height="74" fill="none"/><path d="M2212,945 2235,935 2261,931 2277,939 2271,948 2245,952 2222,954Z" fill="#4b9120"/></g>
<g transform="rotate(10 1860 650)" filter="url(#HBG)"><rect x="1898" y="981" width="97" height="66" fill="none"/><path d="M1924,1015 1948,1007 1970,1013 1968,1020 1946,1020 1928,1020Z" fill="#4b9120"/></g>
<g transform="rotate(25 1860 650)" filter="url(#HBG)"><rect x="1992" y="934" width="216" height="83" fill="none"/><path d="M2018,984 2045,971 2072,969 2103,966 2128,960 2162,961 2181,968 2181,979 2159,978 2130,975 2105,981 2078,983 2051,984 2027,991Z" fill="#4b9120"/></g>
<g transform="rotate(80 1860 650)" filter="url(#DBG)"><rect x="1383" y="651" width="122" height="77" fill="none"/><path d="M1412,698 1409,687 1421,677 1450,684 1478,694 1475,701 1447,699Z" fill="#4b9120"/></g>
<g transform="rotate(80 1860 650)" filter="url(#DBG)"><rect x="1633" y="536" width="265" height="142" fill="none"/><path d="M1659,625 1665,595 1695,596 1739,606 1767,618 1790,633 1782,651 1754,636 1710,624ZM1667,580 1670,562 1872,597 1855,609 1814,611 1766,598 1716,594Z" fill="#4b9120"/></g>
<g transform="rotate(80 1860 650)" filter="url(#DBG)"><rect x="1854" y="243" width="165" height="78" fill="none"/><path d="M1880,281 1885,269 1915,269 1949,278 1993,288 1971,294 1931,295 1908,281Z" fill="#4b9120"/></g>
<g transform="rotate(80 1860 650)" filter="url(#DBG)"><rect x="2234" y="316" width="125" height="69" fill="none"/><path d="M2260,350 2263,343 2284,342 2308,349 2332,356 2322,359 2292,354 2277,355Z" fill="#4b9120"/></g>
<g transform="rotate(70 1860 650)" filter="url(#DBG)"><rect x="1457" y="805" width="98" height="76" fill="none"/><path d="M1483,851 1486,836 1503,831 1521,835 1529,849 1516,855 1500,856Z" fill="#4b9120"/></g>
<g transform="rotate(70 1860 650)" filter="url(#DBG)"><rect x="1606" y="390" width="202" height="252" fill="none"/><path d="M1632,610 1633,594 1658,582 1696,580 1727,580 1718,604 1686,608 1657,613ZM1640,589 1643,564 1643,537 1661,517 1655,504 1674,495 1662,475 1679,465 1680,449 1697,439 1711,423 1731,425 1750,416 1766,417 1782,428 1714,616Z" fill="#4b9120"/></g>
<g transform="rotate(70 1860 650)" filter="url(#DBG)"><rect x="2388" y="522" width="86" height="84" fill="none"/><path d="M2418,577 2414,557 2433,548 2448,559 2445,574 2433,580Z" fill="#4b9120"/></g>
<g transform="rotate(40 1860 650)" filter="url(#DBG)"><rect x="1512" y="638" width="125" height="94" fill="none"/><path d="M1538,691 1550,678 1583,670 1611,664 1561,706Z" fill="#4b9120"/></g>
<g transform="rotate(40 1860 650)" filter="url(#DBG)"><rect x="1693" y="528" width="375" height="188" fill="none"/><path d="M1719,661 1732,637 1751,621 1764,598 1799,601 1821,595 1845,601 1869,614 1857,631 1831,639 1812,655 1790,667 1764,676 1738,684 1721,686ZM1806,614 1832,606 1858,597 1873,577 1902,573 1938,569 1967,557 1989,559 2010,554 2042,560 2037,577 2024,601 2022,629 2023,654 2013,682 1988,690 1964,678 1936,668 1908,673 1879,677 1861,679Z" fill="#4b9120"/></g>
<g transform="rotate(40 1860 650)" filter="url(#DBG)"><rect x="2045" y="736" width="121" height="102" fill="none"/><path d="M2071,790 2087,770 2113,762 2140,763 2083,811Z" fill="#4b9120"/></g>
<g transform="rotate(40 1860 650)" filter="url(#DBG)"><rect x="2169" y="846" width="243" height="81" fill="none"/><path d="M2195,883 2214,874 2246,873 2271,872 2299,874 2327,877 2358,883 2386,893 2380,901 2350,897 2322,894 2294,892 2266,889 2234,890 2205,891Z" fill="#4b9120"/></g>
<g transform="rotate(-45 1860 650)" filter="url(#DBG)"><rect x="1903" y="385" width="116" height="109" fill="none"/><path d="M1943,411 1975,415 1993,439 1991,459 1972,468 1951,468 1947,450 1929,446 1931,427Z" fill="#4b9120"/></g>
<g transform="rotate(62 1860 650)" filter="url(#DBG)"><rect x="1456" y="396" width="230" height="180" fill="none"/><path d="M1482,470 1500,468 1512,457 1512,440 1532,440 1531,422 1555,429 1579,436 1609,435 1624,449 1626,467 1641,480 1659,479 1661,496 1647,512 1649,530 1633,549Z" fill="#4b9120"/></g>
<g transform="rotate(55 1860 650)" filter="url(#DBG)"><rect x="1622" y="343" width="92" height="95" fill="none"/><path d="M1648,389 1651,373 1663,369 1688,385 1685,397 1675,408 1663,412 1655,397Z" fill="#4b9120"/></g>
<g transform="rotate(55 1860 650)" filter="url(#DBG)"><rect x="1606" y="601" width="163" height="94" fill="none"/><path d="M1632,649 1637,634 1669,632 1697,627 1726,629 1743,648 1743,666 1722,669 1693,667 1660,662Z" fill="#4b9120"/></g>
<g transform="rotate(55 1860 650)" filter="url(#DBG)"><rect x="1770" y="754" width="154" height="90" fill="none"/><path d="M1796,807 1809,798 1837,793 1864,781 1889,780 1898,793 1883,806 1859,814 1838,818 1813,818Z" fill="#4b9120"/></g>
<g transform="rotate(55 1860 650)" filter="url(#DBG)"><rect x="2120" y="378" width="91" height="84" fill="none"/><path d="M2146,430 2170,404 2185,414 2163,436Z" fill="#4b9120"/></g>
<g transform="rotate(55 1860 650)" filter="url(#DBG)"><rect x="1894" y="685" width="77" height="70" fill="none"/><path d="M1920,714 1925,711 1945,725 1942,730Z" fill="#4b9120"/></g>
<g transform="rotate(55 1860 650)" filter="url(#DBG)"><rect x="1889" y="882" width="174" height="109" fill="none"/><path d="M1915,945 1941,908 1977,909 2008,925 2037,957 2023,965 1993,963 1960,958 1933,954Z" fill="#4b9120"/></g>
<g transform="rotate(55 1860 650)" filter="url(#DBG)"><rect x="2065" y="976" width="83" height="62" fill="none"/><path d="M2091,1009 2095,1002 2121,1004 2122,1011 2106,1012Z" fill="#4b9120"/></g>
<g transform="rotate(55 1860 650)" filter="url(#DBG)"><rect x="2099" y="1080" width="77" height="63" fill="none"/><path d="M2125,1116 2128,1106 2146,1107 2150,1115 2136,1118Z" fill="#4b9120"/></g>
<g transform="rotate(50 1860 650)" filter="url(#DBG)"><rect x="1518" y="678" width="149" height="93" fill="none"/><path d="M1544,740 1560,725 1591,718 1615,706 1636,704 1641,714 1621,730 1593,739 1569,745Z" fill="#4b9120"/></g>
<g transform="rotate(50 1860 650)" filter="url(#DBG)"><rect x="1700" y="666" width="148" height="138" fill="none"/><path d="M1726,753 1735,734 1762,718 1781,702 1809,692 1821,709 1812,727 1810,745 1819,766 1802,778 1777,776 1752,775 1734,766Z" fill="#4b9120"/></g>
<g transform="rotate(50 1860 650)" filter="url(#DBG)"><rect x="1665" y="776" width="131" height="139" fill="none"/><path d="M1695,844 1691,821 1706,808 1730,802 1752,814 1768,834 1770,855 1768,873 1754,874 1748,889 1737,886 1743,865 1734,851 1713,853Z" fill="#4b9120"/></g>
<g transform="rotate(50 1860 650)" filter="url(#DBG)"><rect x="1809" y="818" width="310" height="137" fill="none"/><path d="M1835,910 1849,902 1881,902 1902,900 1902,907 1878,913 1850,916ZM1906,904 1926,888 1961,885 1992,878 2020,869 2032,860 1975,929 1943,922 1918,920ZM1934,895 1966,857 1997,850 2029,844 2053,854 2063,873 2093,884 2090,895 2065,894 2036,889 2004,889 1973,895 1949,901Z" fill="#4b9120"/></g>
<g transform="rotate(50 1860 650)" filter="url(#DBG)"><rect x="1998" y="503" width="104" height="72" fill="none"/><path d="M2024,541 2034,533 2055,531 2077,529 2074,540 2053,549 2034,549Z" fill="#4b9120"/></g>
<g transform="rotate(50 1860 650)" filter="url(#DBG)"><rect x="2173" y="510" width="137" height="91" fill="none"/><path d="M2199,554 2212,538 2240,536 2269,540 2284,560 2272,575 2243,571 2222,566Z" fill="#4b9120"/></g>
<g transform="rotate(50 1860 650)" filter="url(#DBG)"><rect x="1819" y="1102" width="93" height="62" fill="none"/><path d="M1845,1135 1850,1128 1882,1128 1886,1135 1874,1138 1854,1138Z" fill="#4b9120"/></g>
<g transform="rotate(50 1860 650)" filter="url(#DBG)"><rect x="2140" y="602" width="105" height="136" fill="none"/><path d="M2166,689 2167,664 2176,645 2194,628 2205,630 2216,652 2214,670 2219,687 2214,709 2193,711Z" fill="#4b9120"/></g>
<g transform="rotate(45 1860 650)" filter="url(#DBG)"><rect x="1543" y="715" width="186" height="87" fill="none"/><path d="M1569,755 1583,748 1604,755 1622,744 1646,741 1671,744 1696,755 1703,769 1685,772 1668,776 1646,776 1622,772 1597,769Z" fill="#4b9120"/></g>
<g transform="rotate(45 1860 650)" filter="url(#DBG)"><rect x="1804" y="699" width="190" height="216" fill="none"/><path d="M1841,786 1852,769 1880,762 1897,751 1903,728 1917,725 1936,748 1947,772 1968,779 1958,797 1933,801 1915,804 1897,815 1873,811 1852,804ZM1830,882 1848,871 1873,868 1890,857 1919,857 1940,864 1958,861 1968,864 1961,878 1940,885 1915,889 1887,889 1859,889 1837,889Z" fill="#4b9120"/></g>
<g transform="rotate(45 1860 650)" filter="url(#DBG)"><rect x="1700" y="927" width="258" height="109" fill="none"/><path d="M1726,993 1740,976 1763,970 1788,967 1806,956 1823,953 1848,956 1869,956 1894,953 1915,953 1932,955 1879,1009 1852,1009 1823,1009 1795,1009 1767,1009 1742,1006Z" fill="#4b9120"/></g>
<g transform="rotate(45 1860 650)" filter="url(#DBG)"><rect x="2138" y="526" width="160" height="70" fill="none"/><path d="M2164,562 2178,555 2203,552 2231,552 2256,555 2272,561 2260,566 2231,566 2203,566 2178,569Z" fill="#4b9120"/></g>
<g transform="rotate(45 1860 650)" filter="url(#DBG)"><rect x="1946" y="1046" width="84" height="71" fill="none"/><path d="M1973,1087 1972,1074 1988,1072 2004,1077 1999,1086 1987,1091Z" fill="#4b9120"/></g>
<g transform="rotate(45 1860 650)" filter="url(#DBG)"><rect x="2031" y="1065" width="144" height="73" fill="none"/><path d="M2057,1105 2071,1095 2103,1091 2132,1091 2149,1102 2139,1112 2110,1112 2082,1112Z" fill="#4b9120"/></g>
<g transform="rotate(-50 1860 650)" filter="url(#DBG)"><rect x="1800" y="449" width="99" height="70" fill="none"/><path d="M1827,475 1855,478 1872,483 1868,493 1847,491 1826,489Z" fill="#4b9120"/></g>
<g transform="rotate(-50 1860 650)" filter="url(#DBG)"><rect x="1644" y="1133" width="172" height="107" fill="none"/><path d="M1747,1159 1764,1164 1790,1175 1787,1184 1769,1186 1750,1202 1731,1211 1718,1203 1700,1205 1682,1214 1670,1207 1680,1196 1702,1183 1727,1175Z" fill="#4b9120"/></g>
<g transform="rotate(60 1860 650)" filter="url(#DBG)"><rect x="1819" y="889" width="99" height="76" fill="none"/><path d="M1845,927 1849,915 1876,919 1892,931 1881,939 1859,938Z" fill="#4b9120"/></g>
<g transform="rotate(60 1860 650)" filter="url(#DBG)"><rect x="1793" y="1052" width="90" height="69" fill="none"/><path d="M1819,1087 1829,1080 1847,1078 1858,1090 1846,1095 1830,1093Z" fill="#4b9120"/></g>
<g transform="rotate(60 1860 650)" filter="url(#DBG)"><rect x="1927" y="467" width="97" height="79" fill="none"/><path d="M1953,511 1956,495 1977,493 1998,508 1997,519 1979,520Z" fill="#4b9120"/></g>
<g transform="rotate(60 1860 650)" filter="url(#DBG)"><rect x="1995" y="506" width="143" height="92" fill="none"/><path d="M2021,567 2027,548 2045,535 2070,532 2097,536 2111,550 2091,556 2066,559 2046,564 2030,572Z" fill="#4b9120"/></g>
<g transform="rotate(60 1860 650)" filter="url(#DBG)"><rect x="2130" y="487" width="93" height="81" fill="none"/><path d="M2160,526 2156,513 2179,514 2189,526 2197,542 2181,540Z" fill="#4b9120"/></g>
<g transform="rotate(60 1860 650)" filter="url(#DBG)"><rect x="2109" y="922" width="130" height="76" fill="none"/><path d="M2135,962 2137,948 2166,948 2193,952 2213,966 2198,972 2170,971Z" fill="#4b9120"/></g>
<g transform="rotate(60 1860 650)" filter="url(#DBG)"><rect x="2106" y="993" width="74" height="66" fill="none"/><path d="M2132,1028 2134,1019 2152,1022 2154,1032 2143,1033Z" fill="#4b9120"/></g>
<g transform="rotate(60 1860 650)" filter="url(#DBG)"><rect x="2194" y="842" width="98" height="69" fill="none"/><path d="M2221,877 2223,868 2247,868 2267,873 2263,880 2243,880ZM2220,879 2228,871 2257,871 2261,876 2245,881 2231,885Z" fill="#4b9120"/></g>
<g transform="rotate(60 1860 650)" filter="url(#DBG)"><rect x="2166" y="1057" width="151" height="100" fill="none"/><path d="M2192,1107 2195,1092 2214,1085 2241,1083 2267,1084 2283,1085 2291,1101 2275,1109 2283,1125 2274,1131 2250,1123 2223,1119 2202,1116Z" fill="#4b9120"/></g>
<g transform="rotate(60 1860 650)" filter="url(#DBG)"><rect x="2073" y="569" width="123" height="125" fill="none"/><path d="M2099,664 2139,595 2158,612 2170,631 2161,642 2138,647 2126,663 2111,668Z" fill="#4b9120"/></g>
<g transform="rotate(60 1860 650)" filter="url(#DBG)"><rect x="1396" y="387" width="291" height="202" fill="none"/><path d="M1422,548 1452,505 1502,462 1541,413 1614,429 1661,471 1630,525 1575,514 1510,538 1465,563Z" fill="#4b9120"/></g>
<g transform="rotate(60 1860 650)" filter="url(#DBG)"><rect x="2282" y="633" width="187" height="126" fill="none"/><path d="M2308,727 2317,676 2373,668 2430,659 2443,698 2394,721 2346,734Z" fill="#4b9120"/></g>
<g transform="rotate(35 1860 650)" filter="url(#DBG)"><rect x="1927" y="385" width="236" height="105" fill="none"/><path d="M1953,430 1963,419 1989,429 2008,422 2040,424 2066,418 2099,413 2128,411 2137,423 2116,437 2090,444 2064,450 2041,460 2023,460 2001,464 1977,456Z" fill="#4b9120"/></g>
<g transform="rotate(35 1860 650)" filter="url(#DBG)"><rect x="2041" y="938" width="308" height="85" fill="none"/><path d="M2067,977 2092,969 2125,964 2157,966 2189,968 2217,973 2245,978 2276,980 2306,978 2323,981 2314,990 2286,994 2252,997 2217,991 2182,985 2150,983 2118,981 2089,983 2074,987Z" fill="#4b9120"/></g>
<g transform="rotate(65 1860 650)" filter="url(#DBG)"><rect x="2035" y="458" width="103" height="75" fill="none"/><path d="M2061,504 2070,492 2089,484 2111,486 2112,495 2092,502 2073,507Z" fill="#4b9120"/></g>
<g transform="rotate(65 1860 650)" filter="url(#DBG)"><rect x="2192" y="477" width="259" height="196" fill="none"/><path d="M2219,611 2218,589 2238,570 2253,550 2268,529 2257,513 2264,503 2294,511 2320,526 2338,545 2357,565 2377,580 2386,595 2400,613 2421,628 2426,641 2401,646 2374,645 2356,625 2331,619 2306,613 2284,603 2260,594 2244,606Z" fill="#4b9120"/></g>
<g transform="rotate(-35 1860 650)" filter="url(#DBG)"><rect x="1792" y="812" width="131" height="185" fill="none"/><path d="M1835,838 1871,847 1886,861 1889,882 1897,906 1894,928 1878,941 1875,963 1852,970 1835,959 1834,935 1826,911 1823,890 1838,876 1832,860 1818,844Z" fill="#4b9120"/></g>
<g transform="rotate(-35 1860 650)" filter="url(#DBG)"><rect x="1521" y="905" width="114" height="70" fill="none"/><path d="M1548,934 1584,931 1608,940 1605,949 1575,944 1547,945Z" fill="#4b9120"/></g>
<g transform="rotate(52 1860 650)" filter="url(#DBG)"><rect x="2050" y="881" width="154" height="76" fill="none"/><path d="M2076,920 2083,907 2119,910 2155,912 2177,920 2175,931 2147,931 2111,928Z" fill="#4b9120"/></g>
<g transform="rotate(58 1860 650)" filter="url(#DBG)"><rect x="2134" y="1037" width="84" height="63" fill="none"/><path d="M2160,1073 2168,1066 2190,1063 2192,1070 2175,1074Z" fill="#4b9120"/></g>
<g transform="rotate(25 1860 650)" filter="url(#DBG)"><rect x="1793" y="1287" width="111" height="68" fill="none"/><path d="M1819,1325 1830,1318 1855,1313 1877,1314 1878,1321 1860,1325 1840,1329 1824,1329Z" fill="#4b9120"/></g>
<g transform="rotate(75 1860 650)" filter="url(#DBG)"><rect x="1580" y="590" width="213" height="141" fill="none"/><path d="M1606,690 1616,619 1672,616 1755,647 1767,687 1694,705Z" fill="#4b9120"/></g>
<g transform="rotate(-35 1860 650)" filter="url(#FBG)"><rect x="1723" y="873" width="141" height="134" fill="none"/><path d="M1771,898 1797,901 1821,918 1832,937 1840,952 1833,971 1813,982 1788,983 1769,976 1755,960 1748,949 1766,937 1769,915Z" fill="#4b9120"/></g>
<g transform="rotate(55 1860 650)" filter="url(#FBG)"><rect x="2132" y="739" width="84" height="70" fill="none"/><path d="M2156,785 2170,767 2191,764 2185,777 2189,784 2173,785Z" fill="#4b9120"/></g>
<g transform="rotate(65 1860 650)" filter="url(#FBG)"><rect x="2241" y="542" width="159" height="97" fill="none"/><path d="M2266,594 2272,569 2301,566 2328,568 2357,576 2373,589 2376,607 2356,614 2329,613 2298,607Z" fill="#4b9120"/></g>
<g filter="url(#SBG)"><rect x="1724" y="278" width="54" height="52" fill="none"/><path d="M1745,298 1755,300 1758,310 1749,308Z" fill="#4b9120"/></g>
<g filter="url(#SBG)"><rect x="1571" y="589" width="51" height="55" fill="none"/><path d="M1592,609 1601,618 1598,623 1591,620Z" fill="#4b9120"/></g>
<g filter="url(#SBG)"><rect x="1850" y="715" width="54" height="51" fill="none"/><path d="M1870,738 1882,736 1880,746 1874,744ZM1871,739 1881,738 1880,746 1872,746Z" fill="#4b9120"/></g>
<g filter="url(#SBG)"><rect x="1865" y="907" width="49" height="51" fill="none"/><path d="M1886,930 1894,928 1892,936 1886,938Z" fill="#4b9120"/></g>
<g filter="url(#SBG)"><rect x="1661" y="955" width="52" height="52" fill="none"/><path d="M1681,976 1691,975 1692,985 1682,986Z" fill="#4b9120"/></g>
<g filter="url(#SBG)"><rect x="1954" y="978" width="46" height="51" fill="none"/><path d="M1974,1000 1980,999 1980,1008 1976,1009Z" fill="#4b9120"/></g>
<g transform="rotate(55 1860 650)" filter="url(#OBM)"><rect x="1266" y="598" width="135" height="127" fill="none"/><path d="M1302,674 1349,634 1365,645 1323,689Z" fill="#c6177d"/></g>
<g transform="rotate(55 1860 650)" filter="url(#OBM)"><rect x="1434" y="196" width="135" height="158" fill="none"/><path d="M1470,295 1502,232 1530,270 1534,309 1521,318Z" fill="#c6177d"/></g>
<g transform="rotate(55 1860 650)" filter="url(#TBM)"><rect x="2013" y="1089" width="73" height="63" fill="none"/><path d="M2037,1125 2050,1113 2062,1118 2049,1127Z" fill="#c6177d"/></g>
<g transform="rotate(55 1860 650)" filter="url(#TBM)"><rect x="1980" y="998" width="79" height="99" fill="none"/><path d="M2004,1071 2012,1050 2010,1036 2025,1022 2035,1035 2025,1058 2011,1073Z" fill="#c6177d"/></g>
<g transform="rotate(55 1860 650)" filter="url(#TBM)"><rect x="2127" y="1256" width="85" height="100" fill="none"/><path d="M2151,1330 2184,1280 2188,1282 2153,1331Z" fill="#c6177d"/></g>
<g transform="rotate(-30 1860 650)" filter="url(#HBM)"><rect x="1784" y="31" width="87" height="58" fill="none"/><path d="M1810,57 1844,57 1845,63 1812,63Z" fill="#c6177d"/></g>
<g transform="rotate(-50 1860 650)" filter="url(#HBM)"><rect x="2249" y="369" width="130" height="75" fill="none"/><path d="M2290,396 2315,395 2338,402 2353,412 2344,417 2322,415 2296,418 2276,418 2275,409Z" fill="#c6177d"/></g>
<g transform="rotate(55 1860 650)" filter="url(#HBM)"><rect x="1637" y="351" width="79" height="82" fill="none"/><path d="M1663,399 1675,377 1689,388 1678,407Z" fill="#c6177d"/></g>
<g transform="rotate(55 1860 650)" filter="url(#HBM)"><rect x="1920" y="317" width="81" height="101" fill="none"/><path d="M1946,384 1950,369 1957,343 1964,345 1975,368 1965,392 1953,392Z" fill="#c6177d"/></g>
<g transform="rotate(70 1860 650)" filter="url(#HBM)"><rect x="1849" y="458" width="85" height="76" fill="none"/><path d="M1875,502 1878,484 1906,489 1907,503 1893,508Z" fill="#c6177d"/></g>
<g transform="rotate(10 1860 650)" filter="url(#HBM)"><rect x="2089" y="657" width="151" height="61" fill="none"/><path d="M2115,687 2152,683 2213,683 2214,688 2153,689 2116,692Z" fill="#c6177d"/></g>
<g transform="rotate(-70 1860 650)" filter="url(#HBM)"><rect x="1803" y="885" width="74" height="60" fill="none"/><path d="M1851,911 1850,918 1830,919 1829,912Z" fill="#c6177d"/></g>
<g transform="rotate(35 1860 650)" filter="url(#HBM)"><rect x="1763" y="1098" width="80" height="60" fill="none"/><path d="M1789,1128 1801,1124 1817,1127 1814,1131 1795,1131Z" fill="#c6177d"/></g>
<g filter="url(#HBM)"><rect x="1486" y="1088" width="94" height="70" fill="none"/><path d="M1512,1119 1552,1114 1555,1122 1520,1132 1512,1129Z" fill="#c6177d"/></g>
<g transform="rotate(-60 1860 650)" filter="url(#HBM)"><rect x="1360" y="610" width="99" height="68" fill="none"/><path d="M1393,639 1414,636 1428,640 1433,651 1426,652 1414,645 1392,652 1386,647Z" fill="#c6177d"/></g>
<g transform="rotate(55 1860 650)" filter="url(#DBM)"><rect x="1944" y="413" width="84" height="78" fill="none"/><path d="M1970,450 1981,439 1997,447 2002,460 1988,459 1978,465 1971,457Z" fill="#c6177d"/></g>
<g filter="url(#SBM)"><rect x="1528" y="204" width="48" height="47" fill="none"/><path d="M1548,224 1555,224 1554,230 1548,230Z" fill="#c6177d"/></g>
<g filter="url(#SBM)"><rect x="1722" y="188" width="54" height="56" fill="none"/><path d="M1742,208 1749,211 1755,223 1745,222Z" fill="#c6177d"/></g>
<g filter="url(#SBM)"><rect x="1906" y="391" width="54" height="54" fill="none"/><path d="M1927,412 1932,412 1940,423 1936,424Z" fill="#c6177d"/></g>
<g filter="url(#SBM)"><rect x="2054" y="512" width="47" height="49" fill="none"/><path d="M2075,533 2081,534 2081,541 2076,540Z" fill="#c6177d"/></g>
<g filter="url(#SBM)"><rect x="1956" y="588" width="56" height="75" fill="none"/><path d="M1977,618 1984,608 1992,623 1990,642 1978,638Z" fill="#c6177d"/></g>
<g filter="url(#SBM)"><rect x="2044" y="644" width="46" height="46" fill="none"/><path d="M2064,665 2070,665 2070,670 2064,670Z" fill="#c6177d"/></g>
<g filter="url(#SBM)"><rect x="2003" y="676" width="65" height="72" fill="none"/><path d="M2023,697 2034,700 2047,706 2040,713 2034,728 2027,723 2023,710Z" fill="#c6177d"/></g>
<g filter="url(#SBM)"><rect x="2159" y="976" width="46" height="46" fill="none"/><path d="M2180,996 2184,996 2184,1001 2180,1001Z" fill="#c6177d"/></g></g>
<line x1="284.3" y1="30" x2="284.3" y2="1283.5" stroke="#bdbdbd" stroke-width="4"/>
<line x1="282.3" y1="32" x2="1116.5" y2="32" stroke="#c2c2c2" stroke-width="4"/>
<line x1="1115" y1="30" x2="1115" y2="1283.5" stroke="#cccccc" stroke-width="3"/>
<line x1="282.3" y1="1281.5" x2="1116.5" y2="1281.5" stroke="#bdbdbd" stroke-width="4"/>
<line x1="1445" y1="29" x2="1445" y2="1284.5" stroke="#c2c2c2" stroke-width="3.5"/>
<line x1="1443.2" y1="30.5" x2="2277.5" y2="30.5" stroke="#cacaca" stroke-width="3"/>
<line x1="2276" y1="29" x2="2276" y2="1284.5" stroke="#ececec" stroke-width="3"/>
<line x1="1443.2" y1="1282" x2="2277.5" y2="1282" stroke="#c6c6c6" stroke-width="5"/>
<line x1="404" y1="24" x2="404" y2="32" stroke="#c6c6c6" stroke-width="3.4"/>
<line x1="530" y1="24" x2="530" y2="32" stroke="#c6c6c6" stroke-width="3.4"/>
<line x1="656" y1="24" x2="656" y2="32" stroke="#c6c6c6" stroke-width="3.4"/>
<line x1="782" y1="24" x2="782" y2="32" stroke="#c6c6c6" stroke-width="3.4"/>
<line x1="908" y1="24" x2="908" y2="32" stroke="#c6c6c6" stroke-width="3.4"/>
<line x1="1034" y1="24" x2="1034" y2="32" stroke="#c6c6c6" stroke-width="3.4"/>
<line x1="404" y1="1281" x2="404" y2="1296" stroke="#c6c6c6" stroke-width="3.4"/>
<line x1="656" y1="1281" x2="656" y2="1296" stroke="#c6c6c6" stroke-width="3.4"/>
<line x1="908" y1="1281" x2="908" y2="1296" stroke="#c6c6c6" stroke-width="3.4"/>
<line x1="277" y1="157" x2="285" y2="157" stroke="#c6c6c6" stroke-width="3.4"/>
<line x1="1115" y1="157" x2="1120" y2="157" stroke="#d8d8d8" stroke-width="1.5"/>
<line x1="277" y1="422" x2="285" y2="422" stroke="#c6c6c6" stroke-width="3.4"/>
<line x1="1115" y1="422" x2="1120" y2="422" stroke="#d8d8d8" stroke-width="1.5"/>
<line x1="277" y1="687" x2="285" y2="687" stroke="#c6c6c6" stroke-width="3.4"/>
<line x1="1115" y1="687" x2="1120" y2="687" stroke="#d8d8d8" stroke-width="1.5"/>
<line x1="277" y1="952" x2="285" y2="952" stroke="#c6c6c6" stroke-width="3.4"/>
<line x1="1115" y1="952" x2="1120" y2="952" stroke="#d8d8d8" stroke-width="1.5"/>
<line x1="277" y1="1217" x2="285" y2="1217" stroke="#c6c6c6" stroke-width="3.4"/>
<line x1="1115" y1="1217" x2="1120" y2="1217" stroke="#d8d8d8" stroke-width="1.5"/>
<line x1="1513" y1="23" x2="1513" y2="30" stroke="#c6c6c6" stroke-width="3.4"/>
<line x1="1624" y1="23" x2="1624" y2="30" stroke="#c6c6c6" stroke-width="3.4"/>
<line x1="1735" y1="23" x2="1735" y2="30" stroke="#c6c6c6" stroke-width="3.4"/>
<line x1="1846" y1="23" x2="1846" y2="30" stroke="#c6c6c6" stroke-width="3.4"/>
<line x1="1957" y1="23" x2="1957" y2="30" stroke="#c6c6c6" stroke-width="3.4"/>
<line x1="2068" y1="23" x2="2068" y2="30" stroke="#c6c6c6" stroke-width="3.4"/>
<line x1="2179" y1="23" x2="2179" y2="30" stroke="#c6c6c6" stroke-width="3.4"/>
<line x1="1512" y1="1281" x2="1512" y2="1297" stroke="#c6c6c6" stroke-width="3.4"/>
<line x1="1734" y1="1281" x2="1734" y2="1297" stroke="#c6c6c6" stroke-width="3.4"/>
<line x1="1956" y1="1281" x2="1956" y2="1297" stroke="#c6c6c6" stroke-width="3.4"/>
<line x1="2177" y1="1281" x2="2177" y2="1297" stroke="#c6c6c6" stroke-width="3.4"/>
<line x1="1437" y1="102" x2="1445" y2="102" stroke="#c6c6c6" stroke-width="3.4"/>
<line x1="1437" y1="384" x2="1445" y2="384" stroke="#c6c6c6" stroke-width="3.4"/>
<line x1="1437" y1="666" x2="1445" y2="666" stroke="#c6c6c6" stroke-width="3.4"/>
<line x1="1437" y1="949" x2="1445" y2="949" stroke="#c6c6c6" stroke-width="3.4"/>
<line x1="1437" y1="1231" x2="1445" y2="1231" stroke="#c6c6c6" stroke-width="3.4"/>
<text x="131" y="125" font-size="69" font-family="'Liberation Serif', serif" text-anchor="start" fill="#111" >42.4</text>
<text x="136" y="411" font-size="69" font-family="'Liberation Serif', serif" text-anchor="start" fill="#111" >42.3</text>
<text x="131" y="697" font-size="69" font-family="'Liberation Serif', serif" text-anchor="start" fill="#111" >42.2</text>
<text x="131" y="958" font-size="69" font-family="'Liberation Serif', serif" text-anchor="start" fill="#111" >42.1</text>
<text x="131" y="1274" font-size="69" font-family="'Liberation Serif', serif" text-anchor="start" fill="#111" >42.0</text>
<text x="330" y="1372" font-size="69" font-family="'Liberation Serif', serif" text-anchor="middle" fill="#111" >2.7</text>
<text x="589" y="1372" font-size="69" font-family="'Liberation Serif', serif" text-anchor="middle" fill="#111" >2.6</text>
<text x="846" y="1372" font-size="69" font-family="'Liberation Serif', serif" text-anchor="middle" fill="#111" >2.5</text>
<text x="1104" y="1372" font-size="69" font-family="'Liberation Serif', serif" text-anchor="middle" fill="#111" >2.4</text>
<text x="1294" y="125" font-size="69" font-family="'Liberation Serif', serif" text-anchor="start" fill="#111" >40.7</text>
<text x="1294" y="411" font-size="69" font-family="'Liberation Serif', serif" text-anchor="start" fill="#111" >40.6</text>
<text x="1294" y="697" font-size="69" font-family="'Liberation Serif', serif" text-anchor="start" fill="#111" >40.5</text>
<text x="1294" y="959" font-size="69" font-family="'Liberation Serif', serif" text-anchor="start" fill="#111" >40.4</text>
<text x="1294" y="1271" font-size="69" font-family="'Liberation Serif', serif" text-anchor="start" fill="#111" >40.3</text>
<text x="1489" y="1371" font-size="69" font-family="'Liberation Serif', serif" text-anchor="middle" fill="#111" >1.9</text>
<text x="1716" y="1371" font-size="69" font-family="'Liberation Serif', serif" text-anchor="middle" fill="#111" >1.8</text>
<text x="1944" y="1371" font-size="69" font-family="'Liberation Serif', serif" text-anchor="middle" fill="#111" >1.7</text>
<text x="2172" y="1371" font-size="69" font-family="'Liberation Serif', serif" text-anchor="middle" fill="#111" >1.6</text>
<text x="503" y="1460" font-size="62" font-family="'Liberation Serif', serif" fill="#111" textLength="359" lengthAdjust="spacingAndGlyphs">Longitude (°W)</text>
<text x="1669" y="1460" font-size="62" font-family="'Liberation Serif', serif" fill="#111" textLength="360" lengthAdjust="spacingAndGlyphs">Longitude (°W)</text>
<text transform="translate(71,896) rotate(-90)" font-size="62" font-family="'Liberation Serif', serif" fill="#111" textLength="322" lengthAdjust="spacingAndGlyphs">Latitude (°N)</text>
<text transform="translate(1208,895) rotate(-90)" font-size="62" font-family="'Liberation Serif', serif" fill="#111" textLength="322" lengthAdjust="spacingAndGlyphs">Latitude (°N)</text>
<text x="999" y="115" font-size="76" font-family="'Liberation Serif', serif" fill="#111" textLength="88" lengthAdjust="spacingAndGlyphs">(a)</text>
<text x="2151" y="116" font-size="78" font-family="'Liberation Serif', serif" fill="#111" textLength="93" lengthAdjust="spacingAndGlyphs">(b)</text>
<path d="M679.5,1890.5 L679.5,1554.5 A336,336 0 0 1 874.6,2164.0 Z" fill="#c6177d" stroke="#c6177d" stroke-width="0.6"/>
<path d="M679.5,1890.5 L874.6,2164.0 A336,336 0 0 1 634.5,2223.5 Z" fill="#eaa6cb" stroke="#eaa6cb" stroke-width="0.6"/>
<path d="M679.5,1890.5 L634.5,2223.5 A336,336 0 0 1 522.8,2187.7 Z" fill="#e4f3d1" stroke="#e4f3d1" stroke-width="0.6"/>
<path d="M679.5,1890.5 L522.8,2187.7 A336,336 0 0 1 665.4,1554.8 Z" fill="#4b9120" stroke="#4b9120" stroke-width="0.6"/>
<path d="M679.5,1890.5 L665.4,1554.8 A336,336 0 0 1 679.5,1554.5 Z" fill="#a6dc6a" stroke="#a6dc6a" stroke-width="0.6"/>
<path d="M1843.5,1881 L1843.5,1539.0 A342,342 0 0 1 1879.5,1540.9 Z" fill="#c6177d" stroke="#c6177d" stroke-width="0.6"/>
<path d="M1843.5,1881 L1879.5,1540.9 A342,342 0 0 1 1900.2,1543.7 Z" fill="#eaa6cb" stroke="#eaa6cb" stroke-width="0.6"/>
<path d="M1843.5,1881 L1900.2,1543.7 A342,342 0 1 1 1802.4,1541.5 Z" fill="#4b9120" stroke="#4b9120" stroke-width="0.6"/>
<path d="M1843.5,1881 L1802.4,1541.5 A342,342 0 0 1 1843.5,1539.0 Z" fill="#a6dc6a" stroke="#a6dc6a" stroke-width="0.6"/>
<text x="677.5" y="1662" font-size="62" font-weight="bold" font-family="'Liberation Sans', sans-serif" fill="#404040" text-anchor="middle">1%</text>
<text x="884.5" y="1853" font-size="62" font-weight="bold" font-family="'Liberation Sans', sans-serif" fill="#404040" text-anchor="middle">40%</text>
<text x="436.5" y="1853" font-size="62" font-weight="bold" font-family="'Liberation Sans', sans-serif" fill="#404040" text-anchor="middle">42%</text>
<text x="589.5" y="2147" font-size="62" font-weight="bold" font-family="'Liberation Sans', sans-serif" fill="#404040" text-anchor="middle">5%</text>
<text x="763.5" y="2147" font-size="62" font-weight="bold" font-family="'Liberation Sans', sans-serif" fill="#404040" text-anchor="middle">12%</text>
<text x="1817.5" y="1618" font-size="62" font-weight="bold" font-family="'Liberation Sans', sans-serif" fill="#404040" text-anchor="middle">2%</text>
<text x="1906.5" y="1618" font-size="62" font-weight="bold" font-family="'Liberation Sans', sans-serif" fill="#404040" text-anchor="middle">1%</text>
<text x="1858.5" y="1693" font-size="62" font-weight="bold" font-family="'Liberation Sans', sans-serif" fill="#404040" text-anchor="middle">2%</text>
<text x="1851" y="2079" font-size="62" font-weight="bold" font-family="'Liberation Sans', sans-serif" fill="#404040" text-anchor="middle">95%</text>
<rect x="638" y="2354" width="34" height="34" fill="#c6177d"/>
<text x="686" y="2388" font-size="56" font-family="'Liberation Sans', sans-serif" fill="#595959" letter-spacing="0">broad1</text>
<rect x="918" y="2354" width="34" height="34" fill="#eaa6cb"/>
<text x="963" y="2388" font-size="56" font-family="'Liberation Sans', sans-serif" fill="#595959" letter-spacing="0">broad2</text>
<rect x="1196" y="2354" width="34" height="34" fill="#e4f3d1"/>
<text x="1243" y="2388" font-size="56" font-family="'Liberation Sans', sans-serif" fill="#595959" letter-spacing="0.6">mixed2</text>
<rect x="1479" y="2354" width="34" height="34" fill="#4b9120"/>
<text x="1524" y="2388" font-size="56" font-family="'Liberation Sans', sans-serif" fill="#595959" letter-spacing="0.7">conifer1</text>
<rect x="1785" y="2354" width="34" height="34" fill="#a6dc6a"/>
<text x="1828" y="2388" font-size="56" font-family="'Liberation Sans', sans-serif" fill="#595959" letter-spacing="1.0">conifer2</text>
</svg>
</body></html>
